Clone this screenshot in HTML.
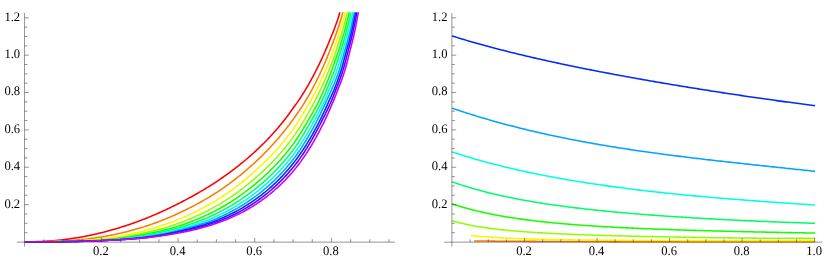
<!DOCTYPE html><html><head><meta charset="utf-8"><style>html,body{margin:0;padding:0;background:#fff}body{width:830px;height:273px;overflow:hidden;font-family:"Liberation Serif",serif}</style></head><body><svg width="830" height="273" viewBox="0 0 830 273" style="display:block">
<rect width="830" height="273" fill="#fff"/>
<defs><clipPath id="cl"><rect x="17" y="12.3" width="379" height="235"/></clipPath><clipPath id="cr"><rect x="444" y="12.3" width="379" height="235"/></clipPath></defs>
<g clip-path="url(#cl)" fill="none" stroke-width="1.55" stroke-linejoin="round">
<path d="M24.84 241.80 L25.74 241.80 L26.63 241.80 L27.52 241.79 L28.42 241.79 L29.31 241.78 L30.20 241.77 L31.10 241.76 L31.99 241.74 L32.88 241.73 L33.78 241.71 L34.67 241.69 L35.56 241.66 L36.46 241.64 L37.35 241.61 L38.24 241.58 L39.14 241.55 L40.03 241.51 L40.92 241.48 L41.82 241.44 L42.71 241.39 L43.60 241.35 L44.50 241.30 L45.39 241.25 L46.28 241.20 L47.18 241.14 L48.07 241.09 L48.96 241.02 L49.86 240.96 L50.75 240.90 L51.64 240.83 L52.54 240.76 L53.43 240.68 L54.32 240.61 L55.22 240.53 L56.11 240.45 L57.00 240.36 L57.90 240.28 L58.79 240.19 L59.68 240.09 L60.58 240.00 L61.47 239.90 L62.36 239.80 L63.26 239.70 L64.15 239.59 L65.04 239.48 L65.94 239.37 L66.83 239.26 L67.72 239.14 L68.62 239.02 L69.51 238.90 L70.40 238.77 L71.30 238.64 L72.19 238.51 L73.08 238.38 L73.98 238.24 L74.87 238.10 L75.77 237.96 L76.66 237.82 L77.55 237.67 L78.45 237.52 L79.34 237.37 L80.23 237.21 L81.13 237.05 L82.02 236.89 L82.91 236.73 L83.81 236.56 L84.70 236.39 L85.59 236.22 L86.49 236.04 L87.38 235.86 L88.27 235.68 L89.17 235.50 L90.06 235.31 L90.95 235.13 L91.85 234.93 L92.74 234.74 L93.63 234.54 L94.53 234.34 L95.42 234.14 L96.31 233.93 L97.21 233.73 L98.10 233.52 L98.99 233.30 L99.89 233.09 L100.78 232.87 L101.67 232.65 L102.57 232.42 L103.46 232.19 L104.35 231.96 L105.25 231.73 L106.14 231.50 L107.03 231.26 L107.93 231.02 L108.82 230.78 L109.71 230.53 L110.61 230.28 L111.50 230.03 L112.39 229.78 L113.29 229.52 L114.18 229.27 L115.07 229.00 L115.97 228.74 L116.86 228.47 L117.75 228.21 L118.65 227.93 L119.54 227.66 L120.43 227.38 L121.33 227.10 L122.22 226.82 L123.11 226.54 L124.01 226.25 L124.90 225.96 L125.80 225.67 L126.69 225.37 L127.58 225.07 L128.48 224.77 L129.37 224.47 L130.26 224.17 L131.16 223.86 L132.05 223.55 L132.94 223.23 L133.84 222.92 L134.73 222.60 L135.62 222.28 L136.52 221.95 L137.41 221.63 L138.30 221.30 L139.20 220.97 L140.09 220.63 L140.98 220.29 L141.88 219.95 L142.77 219.61 L143.66 219.26 L144.56 218.91 L145.45 218.56 L146.34 218.21 L147.24 217.85 L148.13 217.49 L149.02 217.12 L149.92 216.76 L150.81 216.39 L151.70 216.01 L152.60 215.64 L153.49 215.26 L154.38 214.88 L155.28 214.49 L156.17 214.11 L157.06 213.72 L157.96 213.32 L158.85 212.93 L159.74 212.53 L160.64 212.13 L161.53 211.73 L162.42 211.32 L163.32 210.91 L164.21 210.50 L165.10 210.08 L166.00 209.67 L166.89 209.25 L167.78 208.82 L168.68 208.40 L169.57 207.97 L170.46 207.54 L171.36 207.11 L172.25 206.67 L173.14 206.24 L174.04 205.79 L174.93 205.35 L175.82 204.91 L176.72 204.46 L177.61 204.01 L178.51 203.56 L179.40 203.10 L180.29 202.65 L181.19 202.19 L182.08 201.73 L182.97 201.26 L183.87 200.79 L184.76 200.33 L185.65 199.85 L186.55 199.38 L187.44 198.90 L188.33 198.42 L189.23 197.94 L190.12 197.46 L191.01 196.97 L191.91 196.48 L192.80 195.99 L193.69 195.49 L194.59 194.99 L195.48 194.49 L196.37 193.98 L197.27 193.48 L198.16 192.96 L199.05 192.45 L199.95 191.93 L200.84 191.41 L201.73 190.89 L202.63 190.36 L203.52 189.83 L204.41 189.29 L205.31 188.76 L206.20 188.21 L207.09 187.67 L207.99 187.12 L208.88 186.56 L209.77 186.01 L210.67 185.44 L211.56 184.88 L212.45 184.31 L213.35 183.73 L214.24 183.15 L215.13 182.57 L216.03 181.98 L216.92 181.39 L217.81 180.79 L218.71 180.19 L219.60 179.58 L220.49 178.97 L221.39 178.36 L222.28 177.74 L223.17 177.12 L224.07 176.49 L224.96 175.86 L225.85 175.23 L226.75 174.59 L227.64 173.94 L228.54 173.29 L229.43 172.64 L230.32 171.98 L231.22 171.32 L232.11 170.65 L233.00 169.98 L233.90 169.30 L234.79 168.62 L235.68 167.93 L236.58 167.23 L237.47 166.54 L238.36 165.83 L239.26 165.12 L240.15 164.41 L241.04 163.69 L241.94 162.96 L242.83 162.23 L243.72 161.49 L244.62 160.75 L245.51 160.00 L246.40 159.25 L247.30 158.49 L248.19 157.72 L249.08 156.95 L249.98 156.17 L250.87 155.38 L251.76 154.59 L252.66 153.79 L253.55 152.98 L254.44 152.17 L255.34 151.35 L256.23 150.52 L257.12 149.69 L258.02 148.85 L258.91 148.00 L259.80 147.14 L260.70 146.28 L261.59 145.40 L262.48 144.52 L263.38 143.64 L264.27 142.74 L265.16 141.83 L266.06 140.92 L266.95 140.00 L267.84 139.07 L268.74 138.13 L269.63 137.18 L270.52 136.22 L271.42 135.25 L272.31 134.27 L273.20 133.28 L274.10 132.29 L274.99 131.28 L275.88 130.26 L276.78 129.23 L277.67 128.19 L278.56 127.14 L279.46 126.08 L280.35 125.01 L281.25 123.92 L282.14 122.83 L283.03 121.72 L283.93 120.60 L284.82 119.47 L285.71 118.31 L286.61 117.13 L287.50 115.93 L288.39 114.71 L289.29 113.48 L290.18 112.24 L291.07 110.99 L291.97 109.73 L292.86 108.47 L293.75 107.23 L294.65 106.02 L295.54 104.83 L296.43 103.63 L297.33 102.41 L298.22 101.15 L299.11 99.83 L300.01 98.46 L300.90 97.08 L301.79 95.68 L302.69 94.26 L303.58 92.82 L304.47 91.36 L305.37 89.88 L306.26 88.38 L307.15 86.86 L308.05 85.32 L308.94 83.76 L309.83 82.18 L310.73 80.57 L311.62 78.94 L312.51 77.29 L313.41 75.62 L314.30 73.92 L315.19 72.20 L316.09 70.45 L316.98 68.68 L317.87 66.88 L318.77 65.06 L319.66 63.20 L320.55 61.32 L321.45 59.42 L322.34 57.48 L323.23 55.51 L324.13 53.52 L325.02 51.49 L325.91 49.43 L326.81 47.34 L327.70 45.22 L328.59 43.06 L329.49 40.87 L330.38 38.65 L331.28 36.38 L332.17 34.18 L333.06 32.10 L333.96 29.85 L334.85 27.43 L335.74 24.97 L336.64 22.47 L337.53 19.92 L338.42 17.17 L339.32 14.19 L340.21 11.21 L341.10 8.45 L342.00 5.64 L342.89 2.77 L343.78 -0.16 L344.68 -3.14 L345.57 -6.19 L346.46 -9.30 L347.36 -12.47 L348.25 -15.71 L349.14 -19.03" stroke="#ff0000"/>
<path d="M24.84 241.80 L25.74 241.80 L26.63 241.80 L27.52 241.80 L28.42 241.80 L29.31 241.80 L30.20 241.80 L31.10 241.79 L31.99 241.79 L32.88 241.79 L33.78 241.79 L34.67 241.78 L35.56 241.78 L36.46 241.77 L37.35 241.76 L38.24 241.76 L39.14 241.75 L40.03 241.74 L40.92 241.73 L41.82 241.71 L42.71 241.70 L43.60 241.69 L44.50 241.67 L45.39 241.66 L46.28 241.64 L47.18 241.62 L48.07 241.60 L48.96 241.58 L49.86 241.55 L50.75 241.53 L51.64 241.50 L52.54 241.48 L53.43 241.45 L54.32 241.42 L55.22 241.38 L56.11 241.35 L57.00 241.31 L57.90 241.28 L58.79 241.24 L59.68 241.20 L60.58 241.15 L61.47 241.11 L62.36 241.06 L63.26 241.02 L64.15 240.97 L65.04 240.91 L65.94 240.86 L66.83 240.80 L67.72 240.75 L68.62 240.69 L69.51 240.63 L70.40 240.56 L71.30 240.50 L72.19 240.43 L73.08 240.36 L73.98 240.29 L74.87 240.21 L75.77 240.14 L76.66 240.06 L77.55 239.98 L78.45 239.89 L79.34 239.81 L80.23 239.72 L81.13 239.63 L82.02 239.54 L82.91 239.44 L83.81 239.35 L84.70 239.25 L85.59 239.15 L86.49 239.04 L87.38 238.94 L88.27 238.83 L89.17 238.72 L90.06 238.60 L90.95 238.49 L91.85 238.37 L92.74 238.25 L93.63 238.13 L94.53 238.00 L95.42 237.87 L96.31 237.74 L97.21 237.61 L98.10 237.47 L98.99 237.33 L99.89 237.19 L100.78 237.05 L101.67 236.90 L102.57 236.75 L103.46 236.60 L104.35 236.45 L105.25 236.29 L106.14 236.13 L107.03 235.97 L107.93 235.81 L108.82 235.64 L109.71 235.47 L110.61 235.29 L111.50 235.12 L112.39 234.94 L113.29 234.76 L114.18 234.57 L115.07 234.39 L115.97 234.20 L116.86 234.01 L117.75 233.81 L118.65 233.61 L119.54 233.41 L120.43 233.21 L121.33 233.00 L122.22 232.79 L123.11 232.58 L124.01 232.36 L124.90 232.15 L125.80 231.93 L126.69 231.70 L127.58 231.47 L128.48 231.24 L129.37 231.01 L130.26 230.78 L131.16 230.54 L132.05 230.30 L132.94 230.05 L133.84 229.80 L134.73 229.55 L135.62 229.30 L136.52 229.04 L137.41 228.78 L138.30 228.52 L139.20 228.26 L140.09 227.99 L140.98 227.71 L141.88 227.44 L142.77 227.16 L143.66 226.88 L144.56 226.59 L145.45 226.31 L146.34 226.01 L147.24 225.72 L148.13 225.42 L149.02 225.12 L149.92 224.81 L150.81 224.51 L151.70 224.19 L152.60 223.88 L153.49 223.56 L154.38 223.24 L155.28 222.92 L156.17 222.59 L157.06 222.26 L157.96 221.92 L158.85 221.58 L159.74 221.24 L160.64 220.90 L161.53 220.55 L162.42 220.20 L163.32 219.84 L164.21 219.48 L165.10 219.12 L166.00 218.75 L166.89 218.39 L167.78 218.01 L168.68 217.64 L169.57 217.26 L170.46 216.88 L171.36 216.49 L172.25 216.10 L173.14 215.71 L174.04 215.32 L174.93 214.92 L175.82 214.52 L176.72 214.11 L177.61 213.70 L178.51 213.29 L179.40 212.88 L180.29 212.46 L181.19 212.04 L182.08 211.61 L182.97 211.19 L183.87 210.76 L184.76 210.33 L185.65 209.89 L186.55 209.45 L187.44 209.01 L188.33 208.56 L189.23 208.11 L190.12 207.66 L191.01 207.20 L191.91 206.75 L192.80 206.28 L193.69 205.82 L194.59 205.35 L195.48 204.87 L196.37 204.40 L197.27 203.92 L198.16 203.43 L199.05 202.95 L199.95 202.45 L200.84 201.96 L201.73 201.46 L202.63 200.96 L203.52 200.45 L204.41 199.94 L205.31 199.42 L206.20 198.90 L207.09 198.37 L207.99 197.85 L208.88 197.31 L209.77 196.77 L210.67 196.23 L211.56 195.68 L212.45 195.13 L213.35 194.57 L214.24 194.01 L215.13 193.44 L216.03 192.87 L216.92 192.29 L217.81 191.70 L218.71 191.11 L219.60 190.52 L220.49 189.92 L221.39 189.31 L222.28 188.70 L223.17 188.08 L224.07 187.46 L224.96 186.83 L225.85 186.20 L226.75 185.56 L227.64 184.91 L228.54 184.26 L229.43 183.60 L230.32 182.94 L231.22 182.27 L232.11 181.60 L233.00 180.92 L233.90 180.24 L234.79 179.55 L235.68 178.85 L236.58 178.15 L237.47 177.44 L238.36 176.73 L239.26 176.01 L240.15 175.29 L241.04 174.56 L241.94 173.82 L242.83 173.08 L243.72 172.33 L244.62 171.58 L245.51 170.82 L246.40 170.06 L247.30 169.28 L248.19 168.51 L249.08 167.73 L249.98 166.94 L250.87 166.15 L251.76 165.35 L252.66 164.54 L253.55 163.73 L254.44 162.92 L255.34 162.10 L256.23 161.27 L257.12 160.43 L258.02 159.59 L258.91 158.74 L259.80 157.88 L260.70 157.02 L261.59 156.14 L262.48 155.26 L263.38 154.38 L264.27 153.48 L265.16 152.58 L266.06 151.66 L266.95 150.74 L267.84 149.82 L268.74 148.88 L269.63 147.93 L270.52 146.98 L271.42 146.01 L272.31 145.04 L273.20 144.06 L274.10 143.07 L274.99 142.07 L275.88 141.06 L276.78 140.04 L277.67 139.01 L278.56 137.97 L279.46 136.92 L280.35 135.86 L281.25 134.79 L282.14 133.70 L283.03 132.61 L283.93 131.50 L284.82 130.39 L285.71 129.26 L286.61 128.12 L287.50 126.97 L288.39 125.80 L289.29 124.62 L290.18 123.43 L291.07 122.23 L291.97 121.01 L292.86 119.78 L293.75 118.54 L294.65 117.29 L295.54 116.03 L296.43 114.77 L297.33 113.49 L298.22 112.20 L299.11 110.89 L300.01 109.57 L300.90 108.23 L301.79 106.87 L302.69 105.49 L303.58 104.09 L304.47 102.67 L305.37 101.21 L306.26 99.73 L307.15 98.23 L308.05 96.69 L308.94 95.14 L309.83 93.56 L310.73 91.95 L311.62 90.32 L312.51 88.66 L313.41 86.97 L314.30 85.26 L315.19 83.52 L316.09 81.75 L316.98 79.96 L317.87 78.13 L318.77 76.28 L319.66 74.40 L320.55 72.48 L321.45 70.54 L322.34 68.56 L323.23 66.55 L324.13 64.51 L325.02 62.44 L325.91 60.33 L326.81 58.19 L327.70 56.01 L328.59 53.80 L329.49 51.55 L330.38 49.26 L331.28 46.93 L332.17 44.58 L333.06 42.22 L333.96 39.83 L334.85 37.41 L335.74 34.95 L336.64 32.43 L337.53 29.84 L338.42 27.19 L339.32 24.49 L340.21 21.71 L341.10 18.79 L342.00 15.64 L342.89 12.29 L343.78 9.15 L344.68 5.96 L345.57 2.69 L346.46 -0.66 L347.36 -4.09 L348.25 -7.60 L349.14 -11.21 L350.04 -14.92 L350.93 -18.72" stroke="#ff7a00"/>
<path d="M24.84 241.80 L25.74 241.80 L26.63 241.80 L27.52 241.80 L28.42 241.80 L29.31 241.80 L30.20 241.80 L31.10 241.80 L31.99 241.80 L32.88 241.80 L33.78 241.79 L34.67 241.79 L35.56 241.79 L36.46 241.79 L37.35 241.78 L38.24 241.78 L39.14 241.78 L40.03 241.77 L40.92 241.77 L41.82 241.76 L42.71 241.76 L43.60 241.75 L44.50 241.74 L45.39 241.73 L46.28 241.72 L47.18 241.72 L48.07 241.70 L48.96 241.69 L49.86 241.68 L50.75 241.67 L51.64 241.66 L52.54 241.64 L53.43 241.63 L54.32 241.61 L55.22 241.59 L56.11 241.58 L57.00 241.56 L57.90 241.54 L58.79 241.51 L59.68 241.49 L60.58 241.47 L61.47 241.44 L62.36 241.42 L63.26 241.39 L64.15 241.36 L65.04 241.33 L65.94 241.30 L66.83 241.27 L67.72 241.24 L68.62 241.21 L69.51 241.17 L70.40 241.13 L71.30 241.09 L72.19 241.06 L73.08 241.01 L73.98 240.97 L74.87 240.93 L75.77 240.88 L76.66 240.83 L77.55 240.79 L78.45 240.74 L79.34 240.68 L80.23 240.63 L81.13 240.57 L82.02 240.52 L82.91 240.46 L83.81 240.40 L84.70 240.34 L85.59 240.27 L86.49 240.21 L87.38 240.14 L88.27 240.07 L89.17 240.00 L90.06 239.92 L90.95 239.85 L91.85 239.77 L92.74 239.69 L93.63 239.61 L94.53 239.52 L95.42 239.44 L96.31 239.35 L97.21 239.26 L98.10 239.17 L98.99 239.07 L99.89 238.98 L100.78 238.88 L101.67 238.78 L102.57 238.67 L103.46 238.57 L104.35 238.46 L105.25 238.35 L106.14 238.23 L107.03 238.11 L107.93 237.99 L108.82 237.87 L109.71 237.74 L110.61 237.62 L111.50 237.48 L112.39 237.35 L113.29 237.21 L114.18 237.07 L115.07 236.93 L115.97 236.78 L116.86 236.63 L117.75 236.48 L118.65 236.32 L119.54 236.16 L120.43 236.00 L121.33 235.83 L122.22 235.66 L123.11 235.49 L124.01 235.32 L124.90 235.14 L125.80 234.96 L126.69 234.77 L127.58 234.59 L128.48 234.40 L129.37 234.20 L130.26 234.01 L131.16 233.81 L132.05 233.61 L132.94 233.40 L133.84 233.20 L134.73 232.99 L135.62 232.78 L136.52 232.56 L137.41 232.35 L138.30 232.13 L139.20 231.91 L140.09 231.68 L140.98 231.46 L141.88 231.23 L142.77 231.00 L143.66 230.77 L144.56 230.53 L145.45 230.29 L146.34 230.05 L147.24 229.81 L148.13 229.56 L149.02 229.31 L149.92 229.06 L150.81 228.81 L151.70 228.55 L152.60 228.29 L153.49 228.03 L154.38 227.77 L155.28 227.50 L156.17 227.23 L157.06 226.95 L157.96 226.68 L158.85 226.40 L159.74 226.12 L160.64 225.83 L161.53 225.54 L162.42 225.25 L163.32 224.96 L164.21 224.66 L165.10 224.36 L166.00 224.05 L166.89 223.75 L167.78 223.43 L168.68 223.12 L169.57 222.80 L170.46 222.48 L171.36 222.15 L172.25 221.82 L173.14 221.48 L174.04 221.14 L174.93 220.80 L175.82 220.45 L176.72 220.10 L177.61 219.74 L178.51 219.38 L179.40 219.01 L180.29 218.64 L181.19 218.27 L182.08 217.89 L182.97 217.51 L183.87 217.12 L184.76 216.74 L185.65 216.34 L186.55 215.95 L187.44 215.55 L188.33 215.14 L189.23 214.73 L190.12 214.32 L191.01 213.91 L191.91 213.49 L192.80 213.06 L193.69 212.63 L194.59 212.20 L195.48 211.76 L196.37 211.32 L197.27 210.88 L198.16 210.43 L199.05 209.98 L199.95 209.52 L200.84 209.06 L201.73 208.59 L202.63 208.12 L203.52 207.65 L204.41 207.17 L205.31 206.69 L206.20 206.20 L207.09 205.71 L207.99 205.21 L208.88 204.71 L209.77 204.21 L210.67 203.70 L211.56 203.18 L212.45 202.66 L213.35 202.14 L214.24 201.61 L215.13 201.07 L216.03 200.54 L216.92 199.99 L217.81 199.44 L218.71 198.89 L219.60 198.33 L220.49 197.76 L221.39 197.19 L222.28 196.61 L223.17 196.02 L224.07 195.43 L224.96 194.83 L225.85 194.23 L226.75 193.62 L227.64 193.00 L228.54 192.38 L229.43 191.75 L230.32 191.11 L231.22 190.47 L232.11 189.82 L233.00 189.17 L233.90 188.51 L234.79 187.84 L235.68 187.17 L236.58 186.49 L237.47 185.81 L238.36 185.12 L239.26 184.42 L240.15 183.72 L241.04 183.01 L241.94 182.29 L242.83 181.57 L243.72 180.84 L244.62 180.11 L245.51 179.37 L246.40 178.63 L247.30 177.87 L248.19 177.12 L249.08 176.35 L249.98 175.59 L250.87 174.81 L251.76 174.03 L252.66 173.25 L253.55 172.46 L254.44 171.66 L255.34 170.86 L256.23 170.05 L257.12 169.24 L258.02 168.42 L258.91 167.59 L259.80 166.76 L260.70 165.92 L261.59 165.07 L262.48 164.22 L263.38 163.36 L264.27 162.49 L265.16 161.62 L266.06 160.73 L266.95 159.84 L267.84 158.95 L268.74 158.04 L269.63 157.12 L270.52 156.20 L271.42 155.27 L272.31 154.33 L273.20 153.38 L274.10 152.42 L274.99 151.45 L275.88 150.47 L276.78 149.48 L277.67 148.48 L278.56 147.47 L279.46 146.44 L280.35 145.41 L281.25 144.36 L282.14 143.31 L283.03 142.24 L283.93 141.15 L284.82 140.06 L285.71 138.95 L286.61 137.82 L287.50 136.69 L288.39 135.53 L289.29 134.37 L290.18 133.19 L291.07 131.99 L291.97 130.77 L292.86 129.54 L293.75 128.28 L294.65 126.95 L295.54 125.58 L296.43 124.18 L297.33 122.77 L298.22 121.36 L299.11 119.98 L300.01 118.61 L300.90 117.22 L301.79 115.82 L302.69 114.39 L303.58 112.95 L304.47 111.49 L305.37 110.01 L306.26 108.51 L307.15 106.98 L308.05 105.44 L308.94 103.88 L309.83 102.29 L310.73 100.68 L311.62 99.05 L312.51 97.39 L313.41 95.72 L314.30 94.02 L315.19 92.30 L316.09 90.55 L316.98 88.78 L317.87 86.98 L318.77 85.16 L319.66 83.31 L320.55 81.43 L321.45 79.51 L322.34 77.57 L323.23 75.59 L324.13 73.58 L325.02 71.54 L325.91 69.45 L326.81 67.33 L327.70 65.17 L328.59 62.97 L329.49 60.72 L330.38 58.43 L331.28 56.09 L332.17 53.71 L333.06 51.27 L333.96 48.79 L334.85 46.26 L335.74 43.67 L336.64 41.03 L337.53 38.34 L338.42 35.59 L339.32 32.79 L340.21 29.93 L341.10 27.06 L342.00 24.18 L342.89 21.21 L343.78 18.05 L344.68 14.54 L345.57 10.98 L346.46 7.63 L347.36 4.20 L348.25 0.69 L349.14 -2.91 L350.04 -6.60 L350.93 -10.38 L351.82 -14.26 L352.72 -18.25" stroke="#fff500"/>
<path d="M24.84 241.80 L25.74 241.80 L26.63 241.80 L27.52 241.80 L28.42 241.80 L29.31 241.80 L30.20 241.80 L31.10 241.80 L31.99 241.80 L32.88 241.80 L33.78 241.79 L34.67 241.79 L35.56 241.79 L36.46 241.79 L37.35 241.79 L38.24 241.79 L39.14 241.78 L40.03 241.78 L40.92 241.78 L41.82 241.77 L42.71 241.77 L43.60 241.76 L44.50 241.76 L45.39 241.75 L46.28 241.75 L47.18 241.74 L48.07 241.73 L48.96 241.73 L49.86 241.72 L50.75 241.71 L51.64 241.70 L52.54 241.69 L53.43 241.68 L54.32 241.67 L55.22 241.66 L56.11 241.65 L57.00 241.63 L57.90 241.62 L58.79 241.61 L59.68 241.59 L60.58 241.57 L61.47 241.56 L62.36 241.54 L63.26 241.52 L64.15 241.50 L65.04 241.48 L65.94 241.46 L66.83 241.44 L67.72 241.42 L68.62 241.40 L69.51 241.38 L70.40 241.35 L71.30 241.32 L72.19 241.30 L73.08 241.27 L73.98 241.24 L74.87 241.21 L75.77 241.18 L76.66 241.15 L77.55 241.12 L78.45 241.08 L79.34 241.05 L80.23 241.01 L81.13 240.97 L82.02 240.93 L82.91 240.89 L83.81 240.85 L84.70 240.81 L85.59 240.76 L86.49 240.72 L87.38 240.67 L88.27 240.62 L89.17 240.57 L90.06 240.52 L90.95 240.46 L91.85 240.41 L92.74 240.35 L93.63 240.29 L94.53 240.23 L95.42 240.17 L96.31 240.11 L97.21 240.04 L98.10 239.97 L98.99 239.91 L99.89 239.83 L100.78 239.76 L101.67 239.69 L102.57 239.61 L103.46 239.53 L104.35 239.45 L105.25 239.36 L106.14 239.28 L107.03 239.19 L107.93 239.09 L108.82 239.00 L109.71 238.90 L110.61 238.80 L111.50 238.70 L112.39 238.59 L113.29 238.48 L114.18 238.37 L115.07 238.25 L115.97 238.13 L116.86 238.01 L117.75 237.88 L118.65 237.75 L119.54 237.62 L120.43 237.49 L121.33 237.35 L122.22 237.21 L123.11 237.06 L124.01 236.91 L124.90 236.76 L125.80 236.61 L126.69 236.45 L127.58 236.29 L128.48 236.13 L129.37 235.97 L130.26 235.80 L131.16 235.63 L132.05 235.45 L132.94 235.28 L133.84 235.10 L134.73 234.92 L135.62 234.74 L136.52 234.55 L137.41 234.36 L138.30 234.18 L139.20 233.99 L140.09 233.80 L140.98 233.61 L141.88 233.41 L142.77 233.22 L143.66 233.02 L144.56 232.82 L145.45 232.62 L146.34 232.42 L147.24 232.21 L148.13 232.01 L149.02 231.80 L149.92 231.59 L150.81 231.37 L151.70 231.16 L152.60 230.94 L153.49 230.73 L154.38 230.50 L155.28 230.28 L156.17 230.06 L157.06 229.83 L157.96 229.60 L158.85 229.37 L159.74 229.13 L160.64 228.89 L161.53 228.65 L162.42 228.41 L163.32 228.16 L164.21 227.91 L165.10 227.66 L166.00 227.41 L166.89 227.15 L167.78 226.88 L168.68 226.62 L169.57 226.34 L170.46 226.07 L171.36 225.79 L172.25 225.50 L173.14 225.21 L174.04 224.92 L174.93 224.62 L175.82 224.32 L176.72 224.00 L177.61 223.69 L178.51 223.36 L179.40 223.04 L180.29 222.71 L181.19 222.37 L182.08 222.03 L182.97 221.69 L183.87 221.35 L184.76 221.00 L185.65 220.64 L186.55 220.29 L187.44 219.92 L188.33 219.56 L189.23 219.19 L190.12 218.82 L191.01 218.44 L191.91 218.06 L192.80 217.67 L193.69 217.28 L194.59 216.89 L195.48 216.49 L196.37 216.09 L197.27 215.69 L198.16 215.28 L199.05 214.86 L199.95 214.44 L200.84 214.02 L201.73 213.59 L202.63 213.16 L203.52 212.73 L204.41 212.29 L205.31 211.84 L206.20 211.39 L207.09 210.94 L207.99 210.48 L208.88 210.02 L209.77 209.55 L210.67 209.08 L211.56 208.61 L212.45 208.13 L213.35 207.64 L214.24 207.15 L215.13 206.66 L216.03 206.16 L216.92 205.65 L217.81 205.14 L218.71 204.63 L219.60 204.10 L220.49 203.57 L221.39 203.04 L222.28 202.50 L223.17 201.95 L224.07 201.39 L224.96 200.83 L225.85 200.27 L226.75 199.69 L227.64 199.11 L228.54 198.53 L229.43 197.94 L230.32 197.34 L231.22 196.73 L232.11 196.12 L233.00 195.50 L233.90 194.88 L234.79 194.25 L235.68 193.61 L236.58 192.97 L237.47 192.32 L238.36 191.66 L239.26 191.00 L240.15 190.33 L241.04 189.66 L241.94 188.97 L242.83 188.29 L243.72 187.59 L244.62 186.89 L245.51 186.19 L246.40 185.48 L247.30 184.76 L248.19 184.03 L249.08 183.30 L249.98 182.57 L250.87 181.83 L251.76 181.08 L252.66 180.33 L253.55 179.57 L254.44 178.80 L255.34 178.04 L256.23 177.26 L257.12 176.48 L258.02 175.69 L258.91 174.89 L259.80 174.09 L260.70 173.28 L261.59 172.46 L262.48 171.64 L263.38 170.81 L264.27 169.97 L265.16 169.12 L266.06 168.26 L266.95 167.40 L267.84 166.53 L268.74 165.65 L269.63 164.76 L270.52 163.86 L271.42 162.95 L272.31 162.03 L273.20 161.11 L274.10 160.17 L274.99 159.22 L275.88 158.26 L276.78 157.29 L277.67 156.32 L278.56 155.32 L279.46 154.32 L280.35 153.31 L281.25 152.28 L282.14 151.24 L283.03 150.19 L283.93 149.12 L284.82 148.04 L285.71 146.95 L286.61 145.85 L287.50 144.72 L288.39 143.59 L289.29 142.43 L290.18 141.27 L291.07 140.08 L291.97 138.88 L292.86 137.66 L293.75 136.42 L294.65 135.14 L295.54 133.84 L296.43 132.50 L297.33 131.14 L298.22 129.75 L299.11 128.34 L300.01 126.92 L300.90 125.48 L301.79 124.02 L302.69 122.56 L303.58 121.10 L304.47 119.63 L305.37 118.15 L306.26 116.65 L307.15 115.13 L308.05 113.59 L308.94 112.03 L309.83 110.44 L310.73 108.83 L311.62 107.19 L312.51 105.53 L313.41 103.85 L314.30 102.14 L315.19 100.40 L316.09 98.64 L316.98 96.86 L317.87 95.06 L318.77 93.23 L319.66 91.38 L320.55 89.50 L321.45 87.59 L322.34 85.66 L323.23 83.69 L324.13 81.69 L325.02 79.65 L325.91 77.58 L326.81 75.47 L327.70 73.31 L328.59 71.11 L329.49 68.86 L330.38 66.57 L331.28 64.22 L332.17 61.82 L333.06 59.36 L333.96 56.84 L334.85 54.28 L335.74 51.67 L336.64 49.03 L337.53 46.35 L338.42 43.63 L339.32 40.86 L340.21 38.03 L341.10 35.14 L342.00 32.17 L342.89 29.13 L343.78 25.99 L344.68 22.75 L345.57 19.41 L346.46 15.75 L347.36 11.84 L348.25 8.34 L349.14 4.76 L350.04 1.09 L350.93 -2.67 L351.82 -6.52 L352.72 -10.47 L353.61 -14.51 L354.50 -18.66" stroke="#8fff00"/>
<path d="M24.84 241.80 L25.74 241.80 L26.63 241.80 L27.52 241.80 L28.42 241.80 L29.31 241.80 L30.20 241.80 L31.10 241.80 L31.99 241.80 L32.88 241.79 L33.78 241.79 L34.67 241.79 L35.56 241.79 L36.46 241.79 L37.35 241.79 L38.24 241.78 L39.14 241.78 L40.03 241.78 L40.92 241.77 L41.82 241.77 L42.71 241.77 L43.60 241.76 L44.50 241.76 L45.39 241.75 L46.28 241.75 L47.18 241.74 L48.07 241.74 L48.96 241.73 L49.86 241.73 L50.75 241.72 L51.64 241.71 L52.54 241.70 L53.43 241.70 L54.32 241.69 L55.22 241.68 L56.11 241.67 L57.00 241.66 L57.90 241.65 L58.79 241.64 L59.68 241.62 L60.58 241.61 L61.47 241.60 L62.36 241.59 L63.26 241.57 L64.15 241.56 L65.04 241.54 L65.94 241.53 L66.83 241.51 L67.72 241.49 L68.62 241.48 L69.51 241.46 L70.40 241.44 L71.30 241.42 L72.19 241.40 L73.08 241.38 L73.98 241.36 L74.87 241.34 L75.77 241.31 L76.66 241.29 L77.55 241.26 L78.45 241.24 L79.34 241.21 L80.23 241.18 L81.13 241.15 L82.02 241.12 L82.91 241.09 L83.81 241.06 L84.70 241.03 L85.59 240.99 L86.49 240.96 L87.38 240.92 L88.27 240.88 L89.17 240.84 L90.06 240.80 L90.95 240.76 L91.85 240.72 L92.74 240.68 L93.63 240.63 L94.53 240.59 L95.42 240.54 L96.31 240.49 L97.21 240.44 L98.10 240.38 L98.99 240.33 L99.89 240.28 L100.78 240.22 L101.67 240.16 L102.57 240.10 L103.46 240.04 L104.35 239.97 L105.25 239.90 L106.14 239.83 L107.03 239.76 L107.93 239.69 L108.82 239.61 L109.71 239.53 L110.61 239.45 L111.50 239.36 L112.39 239.27 L113.29 239.18 L114.18 239.09 L115.07 238.99 L115.97 238.89 L116.86 238.79 L117.75 238.68 L118.65 238.58 L119.54 238.47 L120.43 238.35 L121.33 238.23 L122.22 238.11 L123.11 237.99 L124.01 237.86 L124.90 237.73 L125.80 237.60 L126.69 237.47 L127.58 237.33 L128.48 237.19 L129.37 237.04 L130.26 236.90 L131.16 236.75 L132.05 236.60 L132.94 236.45 L133.84 236.29 L134.73 236.14 L135.62 235.98 L136.52 235.82 L137.41 235.66 L138.30 235.49 L139.20 235.33 L140.09 235.16 L140.98 235.00 L141.88 234.83 L142.77 234.66 L143.66 234.49 L144.56 234.32 L145.45 234.15 L146.34 233.97 L147.24 233.80 L148.13 233.62 L149.02 233.44 L149.92 233.26 L150.81 233.07 L151.70 232.89 L152.60 232.70 L153.49 232.51 L154.38 232.32 L155.28 232.13 L156.17 231.94 L157.06 231.74 L157.96 231.54 L158.85 231.34 L159.74 231.14 L160.64 230.94 L161.53 230.73 L162.42 230.52 L163.32 230.30 L164.21 230.09 L165.10 229.87 L166.00 229.65 L166.89 229.42 L167.78 229.19 L168.68 228.96 L169.57 228.72 L170.46 228.48 L171.36 228.24 L172.25 227.99 L173.14 227.73 L174.04 227.47 L174.93 227.21 L175.82 226.94 L176.72 226.66 L177.61 226.38 L178.51 226.09 L179.40 225.80 L180.29 225.50 L181.19 225.20 L182.08 224.90 L182.97 224.59 L183.87 224.28 L184.76 223.97 L185.65 223.65 L186.55 223.33 L187.44 223.00 L188.33 222.67 L189.23 222.34 L190.12 222.00 L191.01 221.66 L191.91 221.32 L192.80 220.97 L193.69 220.62 L194.59 220.26 L195.48 219.90 L196.37 219.53 L197.27 219.17 L198.16 218.79 L199.05 218.42 L199.95 218.03 L200.84 217.65 L201.73 217.26 L202.63 216.87 L203.52 216.47 L204.41 216.07 L205.31 215.66 L206.20 215.25 L207.09 214.83 L207.99 214.41 L208.88 213.99 L209.77 213.56 L210.67 213.13 L211.56 212.69 L212.45 212.25 L213.35 211.80 L214.24 211.35 L215.13 210.89 L216.03 210.43 L216.92 209.96 L217.81 209.49 L218.71 209.01 L219.60 208.53 L220.49 208.04 L221.39 207.54 L222.28 207.04 L223.17 206.53 L224.07 206.01 L224.96 205.49 L225.85 204.96 L226.75 204.42 L227.64 203.88 L228.54 203.33 L229.43 202.78 L230.32 202.22 L231.22 201.65 L232.11 201.08 L233.00 200.50 L233.90 199.91 L234.79 199.32 L235.68 198.72 L236.58 198.11 L237.47 197.50 L238.36 196.88 L239.26 196.26 L240.15 195.62 L241.04 194.99 L241.94 194.34 L242.83 193.69 L243.72 193.03 L244.62 192.37 L245.51 191.70 L246.40 191.03 L247.30 190.34 L248.19 189.66 L249.08 188.96 L249.98 188.26 L250.87 187.56 L251.76 186.85 L252.66 186.13 L253.55 185.41 L254.44 184.68 L255.34 183.94 L256.23 183.20 L257.12 182.46 L258.02 181.70 L258.91 180.94 L259.80 180.17 L260.70 179.39 L261.59 178.60 L262.48 177.80 L263.38 177.00 L264.27 176.19 L265.16 175.37 L266.06 174.54 L266.95 173.70 L267.84 172.85 L268.74 172.00 L269.63 171.13 L270.52 170.25 L271.42 169.37 L272.31 168.47 L273.20 167.57 L274.10 166.65 L274.99 165.72 L275.88 164.78 L276.78 163.84 L277.67 162.87 L278.56 161.90 L279.46 160.92 L280.35 159.92 L281.25 158.91 L282.14 157.89 L283.03 156.85 L283.93 155.80 L284.82 154.74 L285.71 153.67 L286.61 152.57 L287.50 151.47 L288.39 150.35 L289.29 149.21 L290.18 148.06 L291.07 146.89 L291.97 145.71 L292.86 144.51 L293.75 143.29 L294.65 142.04 L295.54 140.77 L296.43 139.47 L297.33 138.14 L298.22 136.79 L299.11 135.42 L300.01 134.02 L300.90 132.60 L301.79 131.16 L302.69 129.71 L303.58 128.23 L304.47 126.74 L305.37 125.23 L306.26 123.70 L307.15 122.16 L308.05 120.62 L308.94 119.06 L309.83 117.51 L310.73 115.96 L311.62 114.40 L312.51 112.84 L313.41 111.26 L314.30 109.66 L315.19 108.03 L316.09 106.37 L316.98 104.67 L317.87 102.91 L318.77 101.11 L319.66 99.24 L320.55 97.33 L321.45 95.39 L322.34 93.42 L323.23 91.41 L324.13 89.36 L325.02 87.28 L325.91 85.16 L326.81 83.00 L327.70 80.80 L328.59 78.56 L329.49 76.28 L330.38 73.95 L331.28 71.58 L332.17 69.13 L333.06 66.56 L333.96 63.92 L334.85 61.27 L335.74 58.69 L336.64 56.20 L337.53 53.72 L338.42 51.14 L339.32 48.41 L340.21 45.61 L341.10 42.74 L342.00 39.81 L342.89 36.80 L343.78 33.73 L344.68 30.58 L345.57 27.32 L346.46 23.92 L347.36 20.39 L348.25 16.56 L349.14 12.32 L350.04 8.64 L350.93 4.94 L351.82 1.15 L352.72 -2.74 L353.61 -6.71 L354.50 -10.78 L355.40 -14.94 L356.29 -19.21" stroke="#14ff00"/>
<path d="M24.84 241.80 L25.74 241.80 L26.63 241.80 L27.52 241.80 L28.42 241.80 L29.31 241.80 L30.20 241.80 L31.10 241.80 L31.99 241.79 L32.88 241.79 L33.78 241.79 L34.67 241.79 L35.56 241.79 L36.46 241.78 L37.35 241.78 L38.24 241.78 L39.14 241.78 L40.03 241.77 L40.92 241.77 L41.82 241.77 L42.71 241.76 L43.60 241.76 L44.50 241.76 L45.39 241.75 L46.28 241.75 L47.18 241.74 L48.07 241.74 L48.96 241.73 L49.86 241.72 L50.75 241.72 L51.64 241.71 L52.54 241.70 L53.43 241.70 L54.32 241.69 L55.22 241.68 L56.11 241.67 L57.00 241.66 L57.90 241.65 L58.79 241.64 L59.68 241.63 L60.58 241.62 L61.47 241.61 L62.36 241.60 L63.26 241.59 L64.15 241.57 L65.04 241.56 L65.94 241.55 L66.83 241.54 L67.72 241.52 L68.62 241.51 L69.51 241.49 L70.40 241.48 L71.30 241.46 L72.19 241.44 L73.08 241.42 L73.98 241.41 L74.87 241.39 L75.77 241.37 L76.66 241.35 L77.55 241.33 L78.45 241.31 L79.34 241.28 L80.23 241.26 L81.13 241.24 L82.02 241.21 L82.91 241.19 L83.81 241.16 L84.70 241.13 L85.59 241.10 L86.49 241.07 L87.38 241.04 L88.27 241.01 L89.17 240.98 L90.06 240.95 L90.95 240.91 L91.85 240.88 L92.74 240.84 L93.63 240.80 L94.53 240.77 L95.42 240.73 L96.31 240.68 L97.21 240.64 L98.10 240.60 L98.99 240.55 L99.89 240.51 L100.78 240.46 L101.67 240.41 L102.57 240.36 L103.46 240.31 L104.35 240.26 L105.25 240.20 L106.14 240.14 L107.03 240.08 L107.93 240.02 L108.82 239.95 L109.71 239.89 L110.61 239.82 L111.50 239.74 L112.39 239.67 L113.29 239.59 L114.18 239.51 L115.07 239.43 L115.97 239.35 L116.86 239.26 L117.75 239.17 L118.65 239.08 L119.54 238.98 L120.43 238.89 L121.33 238.79 L122.22 238.68 L123.11 238.58 L124.01 238.47 L124.90 238.36 L125.80 238.25 L126.69 238.13 L127.58 238.01 L128.48 237.89 L129.37 237.77 L130.26 237.64 L131.16 237.52 L132.05 237.39 L132.94 237.26 L133.84 237.12 L134.73 236.99 L135.62 236.85 L136.52 236.71 L137.41 236.57 L138.30 236.43 L139.20 236.29 L140.09 236.15 L140.98 236.01 L141.88 235.86 L142.77 235.71 L143.66 235.57 L144.56 235.42 L145.45 235.26 L146.34 235.11 L147.24 234.95 L148.13 234.80 L149.02 234.64 L149.92 234.48 L150.81 234.32 L151.70 234.15 L152.60 233.98 L153.49 233.82 L154.38 233.65 L155.28 233.47 L156.17 233.30 L157.06 233.12 L157.96 232.95 L158.85 232.77 L159.74 232.58 L160.64 232.40 L161.53 232.21 L162.42 232.02 L163.32 231.83 L164.21 231.63 L165.10 231.43 L166.00 231.23 L166.89 231.03 L167.78 230.82 L168.68 230.61 L169.57 230.39 L170.46 230.18 L171.36 229.96 L172.25 229.73 L173.14 229.50 L174.04 229.27 L174.93 229.03 L175.82 228.79 L176.72 228.54 L177.61 228.29 L178.51 228.03 L179.40 227.77 L180.29 227.51 L181.19 227.24 L182.08 226.97 L182.97 226.70 L183.87 226.42 L184.76 226.14 L185.65 225.86 L186.55 225.57 L187.44 225.28 L188.33 224.98 L189.23 224.68 L190.12 224.38 L191.01 224.07 L191.91 223.76 L192.80 223.45 L193.69 223.13 L194.59 222.81 L195.48 222.48 L196.37 222.15 L197.27 221.82 L198.16 221.48 L199.05 221.14 L199.95 220.79 L200.84 220.44 L201.73 220.08 L202.63 219.72 L203.52 219.36 L204.41 218.99 L205.31 218.62 L206.20 218.24 L207.09 217.86 L207.99 217.48 L208.88 217.09 L209.77 216.69 L210.67 216.29 L211.56 215.89 L212.45 215.48 L213.35 215.06 L214.24 214.64 L215.13 214.22 L216.03 213.79 L216.92 213.35 L217.81 212.91 L218.71 212.46 L219.60 212.01 L220.49 211.55 L221.39 211.09 L222.28 210.62 L223.17 210.14 L224.07 209.66 L224.96 209.17 L225.85 208.68 L226.75 208.18 L227.64 207.67 L228.54 207.16 L229.43 206.64 L230.32 206.12 L231.22 205.59 L232.11 205.05 L233.00 204.51 L233.90 203.96 L234.79 203.40 L235.68 202.84 L236.58 202.27 L237.47 201.70 L238.36 201.12 L239.26 200.53 L240.15 199.93 L241.04 199.33 L241.94 198.73 L242.83 198.11 L243.72 197.49 L244.62 196.87 L245.51 196.23 L246.40 195.59 L247.30 194.95 L248.19 194.30 L249.08 193.64 L249.98 192.97 L250.87 192.30 L251.76 191.62 L252.66 190.94 L253.55 190.25 L254.44 189.55 L255.34 188.84 L256.23 188.13 L257.12 187.41 L258.02 186.68 L258.91 185.95 L259.80 185.20 L260.70 184.45 L261.59 183.69 L262.48 182.92 L263.38 182.14 L264.27 181.35 L265.16 180.56 L266.06 179.75 L266.95 178.93 L267.84 178.11 L268.74 177.27 L269.63 176.43 L270.52 175.57 L271.42 174.71 L272.31 173.83 L273.20 172.95 L274.10 172.05 L274.99 171.14 L275.88 170.22 L276.78 169.29 L277.67 168.35 L278.56 167.39 L279.46 166.43 L280.35 165.45 L281.25 164.46 L282.14 163.46 L283.03 162.44 L283.93 161.41 L284.82 160.37 L285.71 159.31 L286.61 158.24 L287.50 157.15 L288.39 156.06 L289.29 154.94 L290.18 153.81 L291.07 152.67 L291.97 151.51 L292.86 150.33 L293.75 149.13 L294.65 147.91 L295.54 146.66 L296.43 145.38 L297.33 144.07 L298.22 142.74 L299.11 141.38 L300.01 140.00 L300.90 138.59 L301.79 137.16 L302.69 135.71 L303.58 134.23 L304.47 132.73 L305.37 131.22 L306.26 129.68 L307.15 128.13 L308.05 126.56 L308.94 124.98 L309.83 123.38 L310.73 121.77 L311.62 120.14 L312.51 118.53 L313.41 116.92 L314.30 115.33 L315.19 113.73 L316.09 112.13 L316.98 110.51 L317.87 108.86 L318.77 107.18 L319.66 105.46 L320.55 103.68 L321.45 101.83 L322.34 99.91 L323.23 97.93 L324.13 95.91 L325.02 93.85 L325.91 91.75 L326.81 89.61 L327.70 87.44 L328.59 85.22 L329.49 82.97 L330.38 80.67 L331.28 78.34 L332.17 76.07 L333.06 73.95 L333.96 71.80 L334.85 69.38 L335.74 66.62 L336.64 63.69 L337.53 60.80 L338.42 58.07 L339.32 55.32 L340.21 52.53 L341.10 49.68 L342.00 46.78 L342.89 43.82 L343.78 40.79 L344.68 37.70 L345.57 34.53 L346.46 31.26 L347.36 27.87 L348.25 24.30 L349.14 20.57 L350.04 16.47 L350.93 11.90 L351.82 8.09 L352.72 4.19 L353.61 0.19 L354.50 -3.91 L355.40 -8.11 L356.29 -12.42 L357.18 -16.84" stroke="#00ff66"/>
<path d="M24.84 241.80 L25.74 241.80 L26.63 241.80 L27.52 241.80 L28.42 241.80 L29.31 241.80 L30.20 241.79 L31.10 241.79 L31.99 241.79 L32.88 241.79 L33.78 241.79 L34.67 241.79 L35.56 241.78 L36.46 241.78 L37.35 241.78 L38.24 241.78 L39.14 241.77 L40.03 241.77 L40.92 241.77 L41.82 241.76 L42.71 241.76 L43.60 241.75 L44.50 241.75 L45.39 241.75 L46.28 241.74 L47.18 241.74 L48.07 241.73 L48.96 241.72 L49.86 241.72 L50.75 241.71 L51.64 241.71 L52.54 241.70 L53.43 241.69 L54.32 241.68 L55.22 241.68 L56.11 241.67 L57.00 241.66 L57.90 241.65 L58.79 241.64 L59.68 241.63 L60.58 241.62 L61.47 241.61 L62.36 241.60 L63.26 241.59 L64.15 241.58 L65.04 241.57 L65.94 241.56 L66.83 241.54 L67.72 241.53 L68.62 241.52 L69.51 241.50 L70.40 241.49 L71.30 241.47 L72.19 241.46 L73.08 241.44 L73.98 241.43 L74.87 241.41 L75.77 241.39 L76.66 241.37 L77.55 241.35 L78.45 241.33 L79.34 241.31 L80.23 241.29 L81.13 241.27 L82.02 241.25 L82.91 241.23 L83.81 241.20 L84.70 241.18 L85.59 241.15 L86.49 241.13 L87.38 241.10 L88.27 241.07 L89.17 241.05 L90.06 241.02 L90.95 240.99 L91.85 240.95 L92.74 240.92 L93.63 240.89 L94.53 240.86 L95.42 240.82 L96.31 240.78 L97.21 240.75 L98.10 240.71 L98.99 240.67 L99.89 240.63 L100.78 240.59 L101.67 240.55 L102.57 240.50 L103.46 240.46 L104.35 240.41 L105.25 240.36 L106.14 240.31 L107.03 240.26 L107.93 240.20 L108.82 240.15 L109.71 240.09 L110.61 240.03 L111.50 239.97 L112.39 239.90 L113.29 239.84 L114.18 239.77 L115.07 239.70 L115.97 239.63 L116.86 239.55 L117.75 239.48 L118.65 239.40 L119.54 239.32 L120.43 239.24 L121.33 239.15 L122.22 239.07 L123.11 238.98 L124.01 238.88 L124.90 238.79 L125.80 238.70 L126.69 238.60 L127.58 238.50 L128.48 238.40 L129.37 238.29 L130.26 238.19 L131.16 238.08 L132.05 237.97 L132.94 237.86 L133.84 237.74 L134.73 237.63 L135.62 237.51 L136.52 237.40 L137.41 237.28 L138.30 237.16 L139.20 237.03 L140.09 236.91 L140.98 236.79 L141.88 236.66 L142.77 236.53 L143.66 236.40 L144.56 236.27 L145.45 236.14 L146.34 236.00 L147.24 235.86 L148.13 235.72 L149.02 235.58 L149.92 235.43 L150.81 235.29 L151.70 235.14 L152.60 234.99 L153.49 234.83 L154.38 234.68 L155.28 234.52 L156.17 234.36 L157.06 234.19 L157.96 234.03 L158.85 233.86 L159.74 233.69 L160.64 233.52 L161.53 233.34 L162.42 233.17 L163.32 232.98 L164.21 232.80 L165.10 232.62 L166.00 232.43 L166.89 232.24 L167.78 232.04 L168.68 231.85 L169.57 231.65 L170.46 231.44 L171.36 231.24 L172.25 231.03 L173.14 230.82 L174.04 230.60 L174.93 230.38 L175.82 230.16 L176.72 229.94 L177.61 229.71 L178.51 229.48 L179.40 229.24 L180.29 229.00 L181.19 228.76 L182.08 228.52 L182.97 228.27 L183.87 228.02 L184.76 227.77 L185.65 227.51 L186.55 227.25 L187.44 226.99 L188.33 226.72 L189.23 226.45 L190.12 226.18 L191.01 225.90 L191.91 225.62 L192.80 225.33 L193.69 225.05 L194.59 224.76 L195.48 224.46 L196.37 224.16 L197.27 223.86 L198.16 223.55 L199.05 223.24 L199.95 222.93 L200.84 222.61 L201.73 222.29 L202.63 221.96 L203.52 221.63 L204.41 221.30 L205.31 220.96 L206.20 220.61 L207.09 220.26 L207.99 219.91 L208.88 219.55 L209.77 219.19 L210.67 218.82 L211.56 218.45 L212.45 218.07 L213.35 217.68 L214.24 217.29 L215.13 216.90 L216.03 216.50 L216.92 216.09 L217.81 215.68 L218.71 215.26 L219.60 214.84 L220.49 214.41 L221.39 213.98 L222.28 213.54 L223.17 213.09 L224.07 212.64 L224.96 212.19 L225.85 211.72 L226.75 211.26 L227.64 210.78 L228.54 210.30 L229.43 209.82 L230.32 209.33 L231.22 208.83 L232.11 208.33 L233.00 207.82 L233.90 207.30 L234.79 206.78 L235.68 206.26 L236.58 205.72 L237.47 205.18 L238.36 204.63 L239.26 204.08 L240.15 203.52 L241.04 202.95 L241.94 202.38 L242.83 201.80 L243.72 201.21 L244.62 200.62 L245.51 200.02 L246.40 199.41 L247.30 198.80 L248.19 198.18 L249.08 197.55 L249.98 196.91 L250.87 196.27 L251.76 195.62 L252.66 194.96 L253.55 194.30 L254.44 193.63 L255.34 192.95 L256.23 192.26 L257.12 191.57 L258.02 190.86 L258.91 190.15 L259.80 189.43 L260.70 188.70 L261.59 187.96 L262.48 187.22 L263.38 186.46 L264.27 185.70 L265.16 184.93 L266.06 184.14 L266.95 183.35 L267.84 182.55 L268.74 181.74 L269.63 180.92 L270.52 180.09 L271.42 179.24 L272.31 178.39 L273.20 177.53 L274.10 176.65 L274.99 175.77 L275.88 174.87 L276.78 173.96 L277.67 173.04 L278.56 172.11 L279.46 171.17 L280.35 170.21 L281.25 169.24 L282.14 168.26 L283.03 167.26 L283.93 166.25 L284.82 165.23 L285.71 164.19 L286.61 163.14 L287.50 162.07 L288.39 160.99 L289.29 159.90 L290.18 158.78 L291.07 157.65 L291.97 156.51 L292.86 155.35 L293.75 154.17 L294.65 152.97 L295.54 151.74 L296.43 150.49 L297.33 149.22 L298.22 147.93 L299.11 146.61 L300.01 145.27 L300.90 143.91 L301.79 142.53 L302.69 141.13 L303.58 139.70 L304.47 138.25 L305.37 136.78 L306.26 135.29 L307.15 133.77 L308.05 132.24 L308.94 130.68 L309.83 129.11 L310.73 127.51 L311.62 125.90 L312.51 124.26 L313.41 122.61 L314.30 120.94 L315.19 119.25 L316.09 117.56 L316.98 115.86 L317.87 114.15 L318.77 112.42 L319.66 110.67 L320.55 108.90 L321.45 107.09 L322.34 105.26 L323.23 103.39 L324.13 101.47 L325.02 99.51 L325.91 97.50 L326.81 95.44 L327.70 93.34 L328.59 91.21 L329.49 89.04 L330.38 86.84 L331.28 84.61 L332.17 82.40 L333.06 80.26 L333.96 78.14 L334.85 75.99 L335.74 73.74 L336.64 71.34 L337.53 68.71 L338.42 65.68 L339.32 62.50 L340.21 59.43 L341.10 56.41 L342.00 53.38 L342.89 50.34 L343.78 47.32 L344.68 44.30 L345.57 41.25 L346.46 38.14 L347.36 34.94 L348.25 31.62 L349.14 28.13 L350.04 24.43 L350.93 20.58 L351.82 16.80 L352.72 12.96 L353.61 9.03 L354.50 4.99 L355.40 0.86 L356.29 -3.39 L357.18 -7.74 L358.08 -12.22 L358.97 -16.81" stroke="#00ffe0"/>
<path d="M24.84 241.80 L25.74 241.80 L26.63 241.80 L27.52 241.80 L28.42 241.80 L29.31 241.80 L30.20 241.80 L31.10 241.79 L31.99 241.79 L32.88 241.79 L33.78 241.79 L34.67 241.79 L35.56 241.78 L36.46 241.78 L37.35 241.78 L38.24 241.78 L39.14 241.77 L40.03 241.77 L40.92 241.77 L41.82 241.76 L42.71 241.76 L43.60 241.76 L44.50 241.75 L45.39 241.75 L46.28 241.74 L47.18 241.74 L48.07 241.73 L48.96 241.73 L49.86 241.72 L50.75 241.72 L51.64 241.71 L52.54 241.70 L53.43 241.70 L54.32 241.69 L55.22 241.68 L56.11 241.67 L57.00 241.66 L57.90 241.66 L58.79 241.65 L59.68 241.64 L60.58 241.63 L61.47 241.62 L62.36 241.61 L63.26 241.60 L64.15 241.59 L65.04 241.57 L65.94 241.56 L66.83 241.55 L67.72 241.54 L68.62 241.52 L69.51 241.51 L70.40 241.50 L71.30 241.48 L72.19 241.47 L73.08 241.45 L73.98 241.44 L74.87 241.42 L75.77 241.40 L76.66 241.39 L77.55 241.37 L78.45 241.35 L79.34 241.33 L80.23 241.31 L81.13 241.29 L82.02 241.27 L82.91 241.25 L83.81 241.22 L84.70 241.20 L85.59 241.18 L86.49 241.15 L87.38 241.13 L88.27 241.10 L89.17 241.07 L90.06 241.05 L90.95 241.02 L91.85 240.99 L92.74 240.96 L93.63 240.93 L94.53 240.90 L95.42 240.86 L96.31 240.83 L97.21 240.80 L98.10 240.76 L98.99 240.72 L99.89 240.69 L100.78 240.65 L101.67 240.61 L102.57 240.57 L103.46 240.53 L104.35 240.48 L105.25 240.44 L106.14 240.39 L107.03 240.35 L107.93 240.30 L108.82 240.25 L109.71 240.20 L110.61 240.15 L111.50 240.09 L112.39 240.04 L113.29 239.98 L114.18 239.92 L115.07 239.87 L115.97 239.80 L116.86 239.74 L117.75 239.68 L118.65 239.61 L119.54 239.54 L120.43 239.48 L121.33 239.40 L122.22 239.33 L123.11 239.26 L124.01 239.18 L124.90 239.10 L125.80 239.03 L126.69 238.94 L127.58 238.86 L128.48 238.78 L129.37 238.69 L130.26 238.60 L131.16 238.51 L132.05 238.42 L132.94 238.33 L133.84 238.23 L134.73 238.13 L135.62 238.04 L136.52 237.94 L137.41 237.83 L138.30 237.73 L139.20 237.62 L140.09 237.52 L140.98 237.41 L141.88 237.29 L142.77 237.18 L143.66 237.07 L144.56 236.95 L145.45 236.83 L146.34 236.70 L147.24 236.58 L148.13 236.45 L149.02 236.32 L149.92 236.19 L150.81 236.06 L151.70 235.92 L152.60 235.78 L153.49 235.64 L154.38 235.50 L155.28 235.35 L156.17 235.20 L157.06 235.05 L157.96 234.90 L158.85 234.74 L159.74 234.58 L160.64 234.42 L161.53 234.25 L162.42 234.09 L163.32 233.92 L164.21 233.74 L165.10 233.57 L166.00 233.39 L166.89 233.21 L167.78 233.03 L168.68 232.84 L169.57 232.65 L170.46 232.46 L171.36 232.26 L172.25 232.06 L173.14 231.86 L174.04 231.66 L174.93 231.45 L175.82 231.24 L176.72 231.03 L177.61 230.81 L178.51 230.59 L179.40 230.37 L180.29 230.15 L181.19 229.92 L182.08 229.70 L182.97 229.47 L183.87 229.23 L184.76 229.00 L185.65 228.76 L186.55 228.52 L187.44 228.28 L188.33 228.04 L189.23 227.79 L190.12 227.54 L191.01 227.29 L191.91 227.04 L192.80 226.78 L193.69 226.52 L194.59 226.26 L195.48 225.99 L196.37 225.72 L197.27 225.45 L198.16 225.17 L199.05 224.89 L199.95 224.61 L200.84 224.32 L201.73 224.03 L202.63 223.74 L203.52 223.44 L204.41 223.14 L205.31 222.83 L206.20 222.52 L207.09 222.20 L207.99 221.88 L208.88 221.56 L209.77 221.22 L210.67 220.89 L211.56 220.54 L212.45 220.19 L213.35 219.84 L214.24 219.48 L215.13 219.11 L216.03 218.73 L216.92 218.35 L217.81 217.96 L218.71 217.57 L219.60 217.18 L220.49 216.77 L221.39 216.37 L222.28 215.95 L223.17 215.54 L224.07 215.11 L224.96 214.68 L225.85 214.25 L226.75 213.81 L227.64 213.36 L228.54 212.91 L229.43 212.46 L230.32 212.00 L231.22 211.53 L232.11 211.05 L233.00 210.57 L233.90 210.09 L234.79 209.60 L235.68 209.10 L236.58 208.60 L237.47 208.09 L238.36 207.57 L239.26 207.05 L240.15 206.52 L241.04 205.98 L241.94 205.44 L242.83 204.89 L243.72 204.33 L244.62 203.77 L245.51 203.20 L246.40 202.62 L247.30 202.04 L248.19 201.44 L249.08 200.85 L249.98 200.24 L250.87 199.63 L251.76 199.00 L252.66 198.38 L253.55 197.74 L254.44 197.09 L255.34 196.44 L256.23 195.78 L257.12 195.11 L258.02 194.43 L258.91 193.75 L259.80 193.05 L260.70 192.35 L261.59 191.63 L262.48 190.91 L263.38 190.18 L264.27 189.44 L265.16 188.69 L266.06 187.93 L266.95 187.16 L267.84 186.38 L268.74 185.59 L269.63 184.79 L270.52 183.98 L271.42 183.16 L272.31 182.33 L273.20 181.49 L274.10 180.64 L274.99 179.77 L275.88 178.90 L276.78 178.01 L277.67 177.11 L278.56 176.20 L279.46 175.27 L280.35 174.34 L281.25 173.39 L282.14 172.42 L283.03 171.45 L283.93 170.46 L284.82 169.46 L285.71 168.44 L286.61 167.41 L287.50 166.37 L288.39 165.31 L289.29 164.23 L290.18 163.14 L291.07 162.04 L291.97 160.92 L292.86 159.78 L293.75 158.62 L294.65 157.45 L295.54 156.24 L296.43 155.02 L297.33 153.77 L298.22 152.50 L299.11 151.20 L300.01 149.88 L300.90 148.54 L301.79 147.17 L302.69 145.78 L303.58 144.37 L304.47 142.93 L305.37 141.47 L306.26 139.99 L307.15 138.49 L308.05 136.97 L308.94 135.42 L309.83 133.86 L310.73 132.27 L311.62 130.66 L312.51 129.04 L313.41 127.39 L314.30 125.72 L315.19 124.04 L316.09 122.34 L316.98 120.62 L317.87 118.88 L318.77 117.12 L319.66 115.34 L320.55 113.54 L321.45 111.71 L322.34 109.86 L323.23 107.99 L324.13 106.08 L325.02 104.15 L325.91 102.19 L326.81 100.21 L327.70 98.23 L328.59 96.31 L329.49 94.41 L330.38 92.48 L331.28 90.49 L332.17 88.41 L333.06 86.31 L333.96 84.18 L334.85 82.00 L335.74 79.77 L336.64 77.45 L337.53 75.06 L338.42 72.56 L339.32 69.94 L340.21 66.98 L341.10 63.71 L342.00 60.42 L342.89 57.22 L343.78 53.98 L344.68 50.78 L345.57 47.68 L346.46 44.59 L347.36 41.48 L348.25 38.31 L349.14 35.05 L350.04 31.64 L350.93 28.03 L351.82 24.18 L352.72 20.15 L353.61 16.26 L354.50 12.28 L355.40 8.19 L356.29 3.99 L357.18 -0.32 L358.08 -4.76 L358.97 -9.32 L359.86 -14.02 L360.76 -18.85" stroke="#00a3ff"/>
<path d="M24.84 241.80 L25.74 241.80 L26.63 241.80 L27.52 241.80 L28.42 241.80 L29.31 241.80 L30.20 241.80 L31.10 241.80 L31.99 241.80 L32.88 241.80 L33.78 241.79 L34.67 241.79 L35.56 241.79 L36.46 241.79 L37.35 241.79 L38.24 241.79 L39.14 241.78 L40.03 241.78 L40.92 241.78 L41.82 241.78 L42.71 241.77 L43.60 241.77 L44.50 241.77 L45.39 241.76 L46.28 241.76 L47.18 241.75 L48.07 241.75 L48.96 241.74 L49.86 241.74 L50.75 241.73 L51.64 241.73 L52.54 241.72 L53.43 241.71 L54.32 241.71 L55.22 241.70 L56.11 241.69 L57.00 241.69 L57.90 241.68 L58.79 241.67 L59.68 241.66 L60.58 241.65 L61.47 241.64 L62.36 241.63 L63.26 241.62 L64.15 241.61 L65.04 241.60 L65.94 241.59 L66.83 241.57 L67.72 241.56 L68.62 241.55 L69.51 241.53 L70.40 241.52 L71.30 241.50 L72.19 241.49 L73.08 241.47 L73.98 241.46 L74.87 241.44 L75.77 241.42 L76.66 241.41 L77.55 241.39 L78.45 241.37 L79.34 241.35 L80.23 241.33 L81.13 241.31 L82.02 241.29 L82.91 241.26 L83.81 241.24 L84.70 241.22 L85.59 241.19 L86.49 241.17 L87.38 241.14 L88.27 241.12 L89.17 241.09 L90.06 241.06 L90.95 241.04 L91.85 241.01 L92.74 240.98 L93.63 240.95 L94.53 240.92 L95.42 240.89 L96.31 240.85 L97.21 240.82 L98.10 240.78 L98.99 240.75 L99.89 240.71 L100.78 240.68 L101.67 240.64 L102.57 240.60 L103.46 240.56 L104.35 240.52 L105.25 240.48 L106.14 240.44 L107.03 240.39 L107.93 240.35 L108.82 240.30 L109.71 240.26 L110.61 240.21 L111.50 240.16 L112.39 240.11 L113.29 240.06 L114.18 240.01 L115.07 239.96 L115.97 239.91 L116.86 239.85 L117.75 239.80 L118.65 239.74 L119.54 239.68 L120.43 239.62 L121.33 239.56 L122.22 239.50 L123.11 239.44 L124.01 239.37 L124.90 239.31 L125.80 239.24 L126.69 239.17 L127.58 239.10 L128.48 239.03 L129.37 238.96 L130.26 238.89 L131.16 238.81 L132.05 238.74 L132.94 238.66 L133.84 238.58 L134.73 238.50 L135.62 238.41 L136.52 238.33 L137.41 238.24 L138.30 238.15 L139.20 238.06 L140.09 237.97 L140.98 237.88 L141.88 237.78 L142.77 237.68 L143.66 237.58 L144.56 237.47 L145.45 237.37 L146.34 237.26 L147.24 237.15 L148.13 237.03 L149.02 236.91 L149.92 236.79 L150.81 236.67 L151.70 236.54 L152.60 236.42 L153.49 236.28 L154.38 236.15 L155.28 236.01 L156.17 235.87 L157.06 235.73 L157.96 235.58 L158.85 235.44 L159.74 235.28 L160.64 235.13 L161.53 234.97 L162.42 234.81 L163.32 234.65 L164.21 234.48 L165.10 234.32 L166.00 234.14 L166.89 233.97 L167.78 233.79 L168.68 233.62 L169.57 233.43 L170.46 233.25 L171.36 233.07 L172.25 232.88 L173.14 232.69 L174.04 232.49 L174.93 232.30 L175.82 232.11 L176.72 231.91 L177.61 231.71 L178.51 231.51 L179.40 231.31 L180.29 231.10 L181.19 230.90 L182.08 230.69 L182.97 230.48 L183.87 230.27 L184.76 230.05 L185.65 229.83 L186.55 229.62 L187.44 229.40 L188.33 229.17 L189.23 228.95 L190.12 228.72 L191.01 228.49 L191.91 228.26 L192.80 228.02 L193.69 227.78 L194.59 227.54 L195.48 227.30 L196.37 227.05 L197.27 226.80 L198.16 226.55 L199.05 226.29 L199.95 226.03 L200.84 225.77 L201.73 225.50 L202.63 225.23 L203.52 224.96 L204.41 224.68 L205.31 224.40 L206.20 224.11 L207.09 223.82 L207.99 223.52 L208.88 223.22 L209.77 222.91 L210.67 222.60 L211.56 222.28 L212.45 221.96 L213.35 221.63 L214.24 221.29 L215.13 220.95 L216.03 220.60 L216.92 220.24 L217.81 219.88 L218.71 219.52 L219.60 219.15 L220.49 218.77 L221.39 218.39 L222.28 218.00 L223.17 217.61 L224.07 217.22 L224.96 216.81 L225.85 216.41 L226.75 215.99 L227.64 215.58 L228.54 215.15 L229.43 214.72 L230.32 214.29 L231.22 213.85 L232.11 213.40 L233.00 212.95 L233.90 212.49 L234.79 212.02 L235.68 211.55 L236.58 211.08 L237.47 210.59 L238.36 210.10 L239.26 209.61 L240.15 209.10 L241.04 208.59 L241.94 208.08 L242.83 207.55 L243.72 207.02 L244.62 206.49 L245.51 205.94 L246.40 205.39 L247.30 204.83 L248.19 204.27 L249.08 203.70 L249.98 203.11 L250.87 202.53 L251.76 201.93 L252.66 201.33 L253.55 200.72 L254.44 200.10 L255.34 199.47 L256.23 198.83 L257.12 198.19 L258.02 197.54 L258.91 196.87 L259.80 196.20 L260.70 195.52 L261.59 194.83 L262.48 194.14 L263.38 193.43 L264.27 192.71 L265.16 191.98 L266.06 191.25 L266.95 190.50 L267.84 189.75 L268.74 188.98 L269.63 188.20 L270.52 187.42 L271.42 186.62 L272.31 185.81 L273.20 184.99 L274.10 184.16 L274.99 183.32 L275.88 182.46 L276.78 181.60 L277.67 180.72 L278.56 179.83 L279.46 178.93 L280.35 178.02 L281.25 177.10 L282.14 176.16 L283.03 175.21 L283.93 174.24 L284.82 173.27 L285.71 172.27 L286.61 171.27 L287.50 170.25 L288.39 169.22 L289.29 168.17 L290.18 167.11 L291.07 166.03 L291.97 164.94 L292.86 163.83 L293.75 162.71 L294.65 161.56 L295.54 160.40 L296.43 159.22 L297.33 158.01 L298.22 156.78 L299.11 155.54 L300.01 154.27 L300.90 152.98 L301.79 151.67 L302.69 150.34 L303.58 148.99 L304.47 147.61 L305.37 146.22 L306.26 144.80 L307.15 143.36 L308.05 141.90 L308.94 140.41 L309.83 138.91 L310.73 137.38 L311.62 135.83 L312.51 134.26 L313.41 132.66 L314.30 131.04 L315.19 129.40 L316.09 127.74 L316.98 126.06 L317.87 124.35 L318.77 122.62 L319.66 120.87 L320.55 119.09 L321.45 117.29 L322.34 115.46 L323.23 113.61 L324.13 111.72 L325.02 109.81 L325.91 107.87 L326.81 105.89 L327.70 103.89 L328.59 101.86 L329.49 99.80 L330.38 97.87 L331.28 96.01 L332.17 94.09 L333.06 92.16 L333.96 90.08 L334.85 87.86 L335.74 85.58 L336.64 83.24 L337.53 80.83 L338.42 78.35 L339.32 75.80 L340.21 73.16 L341.10 70.43 L342.00 67.47 L342.89 64.19 L343.78 60.83 L344.68 57.53 L345.57 54.18 L346.46 50.84 L347.36 47.58 L348.25 44.35 L349.14 41.08 L350.04 37.74 L350.93 34.27 L351.82 30.62 L352.72 26.70 L353.61 22.51 L354.50 18.26 L355.40 14.05 L356.29 9.70 L357.18 5.22 L358.08 0.60 L358.97 -4.17 L359.86 -9.11 L360.76 -14.22 L361.65 -19.50" stroke="#0029ff"/>
<path d="M24.84 241.80 L25.74 241.80 L26.63 241.80 L27.52 241.80 L28.42 241.80 L29.31 241.80 L30.20 241.80 L31.10 241.80 L31.99 241.80 L32.88 241.80 L33.78 241.80 L34.67 241.80 L35.56 241.80 L36.46 241.80 L37.35 241.80 L38.24 241.80 L39.14 241.80 L40.03 241.79 L40.92 241.79 L41.82 241.79 L42.71 241.79 L43.60 241.79 L44.50 241.79 L45.39 241.78 L46.28 241.78 L47.18 241.78 L48.07 241.77 L48.96 241.77 L49.86 241.77 L50.75 241.76 L51.64 241.76 L52.54 241.75 L53.43 241.75 L54.32 241.74 L55.22 241.74 L56.11 241.73 L57.00 241.72 L57.90 241.72 L58.79 241.71 L59.68 241.70 L60.58 241.69 L61.47 241.68 L62.36 241.67 L63.26 241.66 L64.15 241.65 L65.04 241.64 L65.94 241.63 L66.83 241.62 L67.72 241.61 L68.62 241.59 L69.51 241.58 L70.40 241.56 L71.30 241.55 L72.19 241.53 L73.08 241.52 L73.98 241.50 L74.87 241.48 L75.77 241.47 L76.66 241.45 L77.55 241.43 L78.45 241.41 L79.34 241.39 L80.23 241.37 L81.13 241.35 L82.02 241.32 L82.91 241.30 L83.81 241.28 L84.70 241.25 L85.59 241.23 L86.49 241.20 L87.38 241.18 L88.27 241.15 L89.17 241.12 L90.06 241.09 L90.95 241.06 L91.85 241.04 L92.74 241.00 L93.63 240.97 L94.53 240.94 L95.42 240.91 L96.31 240.87 L97.21 240.84 L98.10 240.80 L98.99 240.77 L99.89 240.73 L100.78 240.69 L101.67 240.66 L102.57 240.62 L103.46 240.58 L104.35 240.54 L105.25 240.50 L106.14 240.45 L107.03 240.41 L107.93 240.37 L108.82 240.32 L109.71 240.28 L110.61 240.24 L111.50 240.19 L112.39 240.14 L113.29 240.10 L114.18 240.05 L115.07 240.00 L115.97 239.95 L116.86 239.90 L117.75 239.85 L118.65 239.80 L119.54 239.75 L120.43 239.70 L121.33 239.64 L122.22 239.59 L123.11 239.53 L124.01 239.48 L124.90 239.42 L125.80 239.36 L126.69 239.30 L127.58 239.24 L128.48 239.18 L129.37 239.12 L130.26 239.06 L131.16 238.99 L132.05 238.92 L132.94 238.86 L133.84 238.79 L134.73 238.72 L135.62 238.64 L136.52 238.57 L137.41 238.49 L138.30 238.41 L139.20 238.33 L140.09 238.25 L140.98 238.17 L141.88 238.08 L142.77 237.99 L143.66 237.90 L144.56 237.80 L145.45 237.71 L146.34 237.61 L147.24 237.50 L148.13 237.40 L149.02 237.29 L149.92 237.18 L150.81 237.07 L151.70 236.95 L152.60 236.83 L153.49 236.71 L154.38 236.59 L155.28 236.46 L156.17 236.33 L157.06 236.20 L157.96 236.06 L158.85 235.92 L159.74 235.78 L160.64 235.64 L161.53 235.49 L162.42 235.34 L163.32 235.19 L164.21 235.04 L165.10 234.88 L166.00 234.72 L166.89 234.56 L167.78 234.40 L168.68 234.23 L169.57 234.06 L170.46 233.89 L171.36 233.72 L172.25 233.54 L173.14 233.37 L174.04 233.19 L174.93 233.01 L175.82 232.84 L176.72 232.66 L177.61 232.48 L178.51 232.29 L179.40 232.11 L180.29 231.93 L181.19 231.74 L182.08 231.55 L182.97 231.36 L183.87 231.16 L184.76 230.97 L185.65 230.77 L186.55 230.57 L187.44 230.37 L188.33 230.16 L189.23 229.95 L190.12 229.74 L191.01 229.53 L191.91 229.31 L192.80 229.09 L193.69 228.87 L194.59 228.65 L195.48 228.42 L196.37 228.19 L197.27 227.96 L198.16 227.72 L199.05 227.48 L199.95 227.24 L200.84 226.99 L201.73 226.74 L202.63 226.49 L203.52 226.23 L204.41 225.97 L205.31 225.70 L206.20 225.43 L207.09 225.16 L207.99 224.88 L208.88 224.60 L209.77 224.31 L210.67 224.02 L211.56 223.72 L212.45 223.42 L213.35 223.11 L214.24 222.80 L215.13 222.48 L216.03 222.16 L216.92 221.83 L217.81 221.50 L218.71 221.16 L219.60 220.81 L220.49 220.46 L221.39 220.11 L222.28 219.75 L223.17 219.39 L224.07 219.02 L224.96 218.64 L225.85 218.26 L226.75 217.88 L227.64 217.49 L228.54 217.09 L229.43 216.69 L230.32 216.28 L231.22 215.87 L232.11 215.45 L233.00 215.02 L233.90 214.59 L234.79 214.15 L235.68 213.71 L236.58 213.26 L237.47 212.80 L238.36 212.34 L239.26 211.87 L240.15 211.39 L241.04 210.91 L241.94 210.42 L242.83 209.92 L243.72 209.42 L244.62 208.90 L245.51 208.38 L246.40 207.86 L247.30 207.32 L248.19 206.78 L249.08 206.23 L249.98 205.68 L250.87 205.11 L251.76 204.54 L252.66 203.96 L253.55 203.37 L254.44 202.77 L255.34 202.16 L256.23 201.54 L257.12 200.92 L258.02 200.29 L258.91 199.65 L259.80 199.00 L260.70 198.34 L261.59 197.67 L262.48 197.00 L263.38 196.31 L264.27 195.62 L265.16 194.91 L266.06 194.20 L266.95 193.48 L267.84 192.75 L268.74 192.00 L269.63 191.25 L270.52 190.49 L271.42 189.72 L272.31 188.93 L273.20 188.14 L274.10 187.34 L274.99 186.52 L275.88 185.70 L276.78 184.86 L277.67 184.01 L278.56 183.15 L279.46 182.28 L280.35 181.40 L281.25 180.50 L282.14 179.60 L283.03 178.68 L283.93 177.75 L284.82 176.80 L285.71 175.85 L286.61 174.88 L287.50 173.90 L288.39 172.90 L289.29 171.89 L290.18 170.86 L291.07 169.83 L291.97 168.77 L292.86 167.71 L293.75 166.62 L294.65 165.52 L295.54 164.39 L296.43 163.24 L297.33 162.06 L298.22 160.87 L299.11 159.65 L300.01 158.40 L300.90 157.14 L301.79 155.85 L302.69 154.53 L303.58 153.20 L304.47 151.84 L305.37 150.45 L306.26 149.05 L307.15 147.62 L308.05 146.17 L308.94 144.69 L309.83 143.19 L310.73 141.67 L311.62 140.13 L312.51 138.56 L313.41 136.98 L314.30 135.37 L315.19 133.73 L316.09 132.08 L316.98 130.40 L317.87 128.71 L318.77 126.99 L319.66 125.25 L320.55 123.49 L321.45 121.71 L322.34 119.92 L323.23 118.12 L324.13 116.32 L325.02 114.53 L325.91 112.73 L326.81 110.91 L327.70 109.06 L328.59 107.18 L329.49 105.26 L330.38 103.28 L331.28 101.23 L332.17 99.11 L333.06 96.94 L333.96 94.71 L334.85 92.44 L335.74 90.14 L336.64 87.83 L337.53 85.53 L338.42 83.21 L339.32 80.85 L340.21 78.43 L341.10 75.92 L342.00 73.30 L342.89 70.53 L343.78 67.53 L344.68 64.26 L345.57 60.88 L346.46 57.51 L347.36 54.06 L348.25 50.61 L349.14 47.21 L350.04 43.79 L350.93 40.31 L351.82 36.72 L352.72 32.98 L353.61 29.03 L354.50 24.69 L355.40 20.05 L356.29 15.66 L357.18 11.12 L358.08 6.41 L358.97 1.54 L359.86 -3.52 L360.76 -8.76 L361.65 -14.21 L362.54 -19.88" stroke="#5200ff"/>
<path d="M24.84 241.80 L25.74 241.80 L26.63 241.80 L27.52 241.80 L28.42 241.80 L29.31 241.80 L30.20 241.80 L31.10 241.80 L31.99 241.80 L32.88 241.80 L33.78 241.80 L34.67 241.80 L35.56 241.80 L36.46 241.80 L37.35 241.80 L38.24 241.80 L39.14 241.80 L40.03 241.80 L40.92 241.80 L41.82 241.80 L42.71 241.80 L43.60 241.80 L44.50 241.80 L45.39 241.80 L46.28 241.79 L47.18 241.79 L48.07 241.79 L48.96 241.79 L49.86 241.79 L50.75 241.79 L51.64 241.78 L52.54 241.78 L53.43 241.78 L54.32 241.77 L55.22 241.77 L56.11 241.77 L57.00 241.76 L57.90 241.76 L58.79 241.75 L59.68 241.75 L60.58 241.74 L61.47 241.73 L62.36 241.73 L63.26 241.72 L64.15 241.71 L65.04 241.70 L65.94 241.69 L66.83 241.68 L67.72 241.67 L68.62 241.66 L69.51 241.64 L70.40 241.63 L71.30 241.62 L72.19 241.60 L73.08 241.59 L73.98 241.57 L74.87 241.55 L75.77 241.54 L76.66 241.52 L77.55 241.50 L78.45 241.48 L79.34 241.46 L80.23 241.44 L81.13 241.41 L82.02 241.39 L82.91 241.37 L83.81 241.34 L84.70 241.32 L85.59 241.29 L86.49 241.27 L87.38 241.24 L88.27 241.21 L89.17 241.18 L90.06 241.15 L90.95 241.12 L91.85 241.09 L92.74 241.05 L93.63 241.02 L94.53 240.99 L95.42 240.95 L96.31 240.92 L97.21 240.88 L98.10 240.84 L98.99 240.80 L99.89 240.76 L100.78 240.72 L101.67 240.68 L102.57 240.64 L103.46 240.60 L104.35 240.56 L105.25 240.51 L106.14 240.47 L107.03 240.43 L107.93 240.38 L108.82 240.34 L109.71 240.29 L110.61 240.24 L111.50 240.20 L112.39 240.15 L113.29 240.10 L114.18 240.05 L115.07 240.01 L115.97 239.96 L116.86 239.91 L117.75 239.86 L118.65 239.80 L119.54 239.75 L120.43 239.70 L121.33 239.65 L122.22 239.59 L123.11 239.54 L124.01 239.48 L124.90 239.43 L125.80 239.37 L126.69 239.31 L127.58 239.25 L128.48 239.20 L129.37 239.13 L130.26 239.07 L131.16 239.01 L132.05 238.95 L132.94 238.88 L133.84 238.81 L134.73 238.75 L135.62 238.68 L136.52 238.61 L137.41 238.53 L138.30 238.46 L139.20 238.38 L140.09 238.30 L140.98 238.22 L141.88 238.14 L142.77 238.06 L143.66 237.97 L144.56 237.88 L145.45 237.79 L146.34 237.70 L147.24 237.61 L148.13 237.51 L149.02 237.41 L149.92 237.31 L150.81 237.21 L151.70 237.11 L152.60 237.00 L153.49 236.89 L154.38 236.78 L155.28 236.66 L156.17 236.55 L157.06 236.43 L157.96 236.31 L158.85 236.19 L159.74 236.06 L160.64 235.94 L161.53 235.81 L162.42 235.68 L163.32 235.54 L164.21 235.41 L165.10 235.27 L166.00 235.13 L166.89 234.99 L167.78 234.85 L168.68 234.70 L169.57 234.55 L170.46 234.40 L171.36 234.25 L172.25 234.10 L173.14 233.95 L174.04 233.79 L174.93 233.64 L175.82 233.48 L176.72 233.32 L177.61 233.16 L178.51 233.00 L179.40 232.84 L180.29 232.67 L181.19 232.50 L182.08 232.33 L182.97 232.16 L183.87 231.98 L184.76 231.81 L185.65 231.62 L186.55 231.44 L187.44 231.25 L188.33 231.06 L189.23 230.87 L190.12 230.67 L191.01 230.47 L191.91 230.27 L192.80 230.07 L193.69 229.86 L194.59 229.65 L195.48 229.43 L196.37 229.21 L197.27 228.99 L198.16 228.76 L199.05 228.54 L199.95 228.30 L200.84 228.07 L201.73 227.83 L202.63 227.58 L203.52 227.34 L204.41 227.08 L205.31 226.83 L206.20 226.57 L207.09 226.31 L207.99 226.04 L208.88 225.77 L209.77 225.49 L210.67 225.21 L211.56 224.93 L212.45 224.64 L213.35 224.35 L214.24 224.05 L215.13 223.75 L216.03 223.44 L216.92 223.13 L217.81 222.82 L218.71 222.50 L219.60 222.17 L220.49 221.84 L221.39 221.51 L222.28 221.17 L223.17 220.83 L224.07 220.48 L224.96 220.13 L225.85 219.77 L226.75 219.41 L227.64 219.04 L228.54 218.67 L229.43 218.30 L230.32 217.91 L231.22 217.53 L232.11 217.13 L233.00 216.73 L233.90 216.33 L234.79 215.92 L235.68 215.50 L236.58 215.08 L237.47 214.65 L238.36 214.22 L239.26 213.78 L240.15 213.33 L241.04 212.88 L241.94 212.42 L242.83 211.95 L243.72 211.48 L244.62 211.00 L245.51 210.51 L246.40 210.01 L247.30 209.51 L248.19 209.00 L249.08 208.48 L249.98 207.96 L250.87 207.43 L251.76 206.88 L252.66 206.34 L253.55 205.78 L254.44 205.21 L255.34 204.64 L256.23 204.05 L257.12 203.46 L258.02 202.86 L258.91 202.25 L259.80 201.64 L260.70 201.01 L261.59 200.38 L262.48 199.74 L263.38 199.09 L264.27 198.43 L265.16 197.76 L266.06 197.08 L266.95 196.39 L267.84 195.69 L268.74 194.99 L269.63 194.27 L270.52 193.54 L271.42 192.81 L272.31 192.06 L273.20 191.30 L274.10 190.53 L274.99 189.75 L275.88 188.96 L276.78 188.16 L277.67 187.35 L278.56 186.53 L279.46 185.69 L280.35 184.84 L281.25 183.98 L282.14 183.11 L283.03 182.23 L283.93 181.33 L284.82 180.42 L285.71 179.50 L286.61 178.56 L287.50 177.61 L288.39 176.64 L289.29 175.67 L290.18 174.67 L291.07 173.66 L291.97 172.64 L292.86 171.60 L293.75 170.55 L294.65 169.47 L295.54 168.38 L296.43 167.27 L297.33 166.13 L298.22 164.98 L299.11 163.80 L300.01 162.61 L300.90 161.39 L301.79 160.15 L302.69 158.89 L303.58 157.61 L304.47 156.31 L305.37 154.99 L306.26 153.64 L307.15 152.27 L308.05 150.88 L308.94 149.47 L309.83 148.03 L310.73 146.58 L311.62 145.09 L312.51 143.59 L313.41 142.06 L314.30 140.51 L315.19 138.93 L316.09 137.33 L316.98 135.71 L317.87 134.06 L318.77 132.38 L319.66 130.69 L320.55 128.96 L321.45 127.21 L322.34 125.44 L323.23 123.64 L324.13 121.81 L325.02 119.96 L325.91 118.07 L326.81 116.15 L327.70 114.20 L328.59 112.21 L329.49 110.18 L330.38 108.13 L331.28 106.03 L332.17 103.92 L333.06 101.79 L333.96 99.62 L334.85 97.43 L335.74 95.22 L336.64 92.98 L337.53 90.70 L338.42 88.39 L339.32 86.09 L340.21 83.78 L341.10 81.43 L342.00 79.01 L342.89 76.50 L343.78 73.86 L344.68 71.06 L345.57 68.04 L346.46 64.76 L347.36 61.33 L348.25 57.85 L349.14 54.25 L350.04 50.65 L350.93 47.12 L351.82 43.58 L352.72 39.96 L353.61 36.22 L354.50 32.29 L355.40 28.08 L356.29 23.39 L357.18 18.55 L358.08 13.87 L358.97 9.00 L359.86 3.94 L360.76 -1.33 L361.65 -6.82 L362.54 -12.54 L363.44 -18.53" stroke="#cc00ff"/>
</g>
<g clip-path="url(#cr)" fill="none" stroke-width="1.55" stroke-linejoin="round">
<path d="M474.00 240.95 L475.71 240.96 L477.43 240.98 L479.14 241.00 L480.86 241.02 L482.57 241.03 L484.28 241.05 L486.00 241.07 L487.71 241.08 L489.43 241.10 L491.14 241.11 L492.85 241.13 L494.57 241.14 L496.28 241.16 L498.00 241.17 L499.71 241.18 L501.43 241.19 L503.14 241.21 L504.85 241.22 L506.57 241.23 L508.28 241.24 L510.00 241.25 L511.71 241.26 L513.42 241.28 L515.14 241.29 L516.85 241.30 L518.57 241.31 L520.28 241.32 L521.99 241.32 L523.71 241.33 L525.42 241.34 L527.14 241.35 L528.85 241.36 L530.56 241.37 L532.28 241.38 L533.99 241.38 L535.71 241.39 L537.42 241.40 L539.13 241.41 L540.85 241.41 L542.56 241.42 L544.28 241.43 L545.99 241.43 L547.71 241.44 L549.42 241.45 L551.13 241.45 L552.85 241.46 L554.56 241.47 L556.28 241.47 L557.99 241.48 L559.70 241.48 L561.42 241.49 L563.13 241.49 L564.85 241.50 L566.56 241.50 L568.27 241.51 L569.99 241.51 L571.70 241.52 L573.42 241.52 L575.13 241.53 L576.84 241.53 L578.56 241.54 L580.27 241.54 L581.99 241.54 L583.70 241.55 L585.41 241.55 L587.13 241.56 L588.84 241.56 L590.56 241.56 L592.27 241.57 L593.98 241.57 L595.70 241.57 L597.41 241.58 L599.13 241.58 L600.84 241.58 L602.56 241.59 L604.27 241.59 L605.98 241.59 L607.70 241.59 L609.41 241.60 L611.13 241.60 L612.84 241.60 L614.55 241.61 L616.27 241.61 L617.98 241.61 L619.70 241.61 L621.41 241.62 L623.12 241.62 L624.84 241.62 L626.55 241.62 L628.27 241.63 L629.98 241.63 L631.69 241.63 L633.41 241.63 L635.12 241.63 L636.84 241.64 L638.55 241.64 L640.26 241.64 L641.98 241.64 L643.69 241.64 L645.41 241.65 L647.12 241.65 L648.84 241.65 L650.55 241.65 L652.26 241.65 L653.98 241.65 L655.69 241.66 L657.41 241.66 L659.12 241.66 L660.83 241.66 L662.55 241.66 L664.26 241.66 L665.98 241.67 L667.69 241.67 L669.40 241.67 L671.12 241.67 L672.83 241.67 L674.55 241.67 L676.26 241.67 L677.97 241.67 L679.69 241.68 L681.40 241.68 L683.12 241.68 L684.83 241.68 L686.54 241.68 L688.26 241.68 L689.97 241.68 L691.69 241.68 L693.40 241.68 L695.12 241.69 L696.83 241.69 L698.54 241.69 L700.26 241.69 L701.97 241.69 L703.69 241.69 L705.40 241.69 L707.11 241.69 L708.83 241.69 L710.54 241.69 L712.26 241.69 L713.97 241.70 L715.68 241.70 L717.40 241.70 L719.11 241.70 L720.83 241.70 L722.54 241.70 L724.25 241.70 L725.97 241.70 L727.68 241.70 L729.40 241.70 L731.11 241.70 L732.82 241.70 L734.54 241.70 L736.25 241.70 L737.97 241.71 L739.68 241.71 L741.39 241.71 L743.11 241.71 L744.82 241.71 L746.54 241.71 L748.25 241.71 L749.97 241.71 L751.68 241.71 L753.39 241.71 L755.11 241.71 L756.82 241.71 L758.54 241.71 L760.25 241.71 L761.96 241.71 L763.68 241.71 L765.39 241.71 L767.11 241.71 L768.82 241.71 L770.53 241.71 L772.25 241.71 L773.96 241.71 L775.68 241.71 L777.39 241.72 L779.10 241.72 L780.82 241.72 L782.53 241.72 L784.25 241.72 L785.96 241.72 L787.67 241.72 L789.39 241.72 L791.10 241.72 L792.82 241.72 L794.53 241.72 L796.25 241.72 L797.96 241.72 L799.67 241.72 L801.39 241.72 L803.10 241.72 L804.82 241.72 L806.53 241.72 L808.24 241.72 L809.96 241.72 L811.67 241.72 L813.39 241.72 L815.10 241.72" stroke="#ff7a00"/>
<path d="M470.95 235.65 L472.68 235.82 L474.41 235.98 L476.14 236.13 L477.87 236.28 L479.60 236.42 L481.33 236.56 L483.06 236.69 L484.79 236.82 L486.51 236.94 L488.24 237.06 L489.97 237.18 L491.70 237.29 L493.43 237.39 L495.16 237.50 L496.89 237.60 L498.62 237.69 L500.35 237.79 L502.08 237.88 L503.81 237.96 L505.54 238.05 L507.27 238.13 L509.00 238.20 L510.73 238.28 L512.46 238.35 L514.18 238.42 L515.91 238.49 L517.64 238.56 L519.37 238.62 L521.10 238.69 L522.83 238.75 L524.56 238.80 L526.29 238.86 L528.02 238.91 L529.75 238.97 L531.48 239.02 L533.21 239.07 L534.94 239.12 L536.67 239.16 L538.40 239.21 L540.13 239.25 L541.86 239.29 L543.58 239.33 L545.31 239.37 L547.04 239.41 L548.77 239.45 L550.50 239.49 L552.23 239.52 L553.96 239.56 L555.69 239.59 L557.42 239.62 L559.15 239.65 L560.88 239.69 L562.61 239.72 L564.34 239.74 L566.07 239.77 L567.80 239.80 L569.53 239.83 L571.26 239.85 L572.98 239.88 L574.71 239.90 L576.44 239.92 L578.17 239.95 L579.90 239.97 L581.63 239.99 L583.36 240.01 L585.09 240.03 L586.82 240.05 L588.55 240.07 L590.28 240.09 L592.01 240.11 L593.74 240.13 L595.47 240.14 L597.20 240.16 L598.93 240.18 L600.65 240.19 L602.38 240.21 L604.11 240.22 L605.84 240.24 L607.57 240.25 L609.30 240.27 L611.03 240.28 L612.76 240.29 L614.49 240.31 L616.22 240.32 L617.95 240.33 L619.68 240.34 L621.41 240.35 L623.14 240.36 L624.87 240.37 L626.60 240.39 L628.33 240.40 L630.05 240.41 L631.78 240.41 L633.51 240.42 L635.24 240.43 L636.97 240.44 L638.70 240.45 L640.43 240.46 L642.16 240.47 L643.89 240.48 L645.62 240.48 L647.35 240.49 L649.08 240.50 L650.81 240.50 L652.54 240.51 L654.27 240.52 L656.00 240.52 L657.72 240.53 L659.45 240.54 L661.18 240.54 L662.91 240.55 L664.64 240.55 L666.37 240.56 L668.10 240.56 L669.83 240.57 L671.56 240.57 L673.29 240.58 L675.02 240.58 L676.75 240.59 L678.48 240.59 L680.21 240.60 L681.94 240.60 L683.67 240.60 L685.40 240.61 L687.12 240.61 L688.85 240.62 L690.58 240.62 L692.31 240.62 L694.04 240.62 L695.77 240.63 L697.50 240.63 L699.23 240.63 L700.96 240.64 L702.69 240.64 L704.42 240.64 L706.15 240.64 L707.88 240.65 L709.61 240.65 L711.34 240.65 L713.07 240.65 L714.79 240.65 L716.52 240.66 L718.25 240.66 L719.98 240.66 L721.71 240.66 L723.44 240.66 L725.17 240.66 L726.90 240.67 L728.63 240.67 L730.36 240.67 L732.09 240.67 L733.82 240.67 L735.55 240.67 L737.28 240.67 L739.01 240.67 L740.74 240.68 L742.47 240.68 L744.19 240.68 L745.92 240.68 L747.65 240.68 L749.38 240.68 L751.11 240.68 L752.84 240.68 L754.57 240.68 L756.30 240.68 L758.03 240.68 L759.76 240.68 L761.49 240.68 L763.22 240.68 L764.95 240.68 L766.68 240.69 L768.41 240.69 L770.14 240.69 L771.87 240.69 L773.59 240.69 L775.32 240.69 L777.05 240.69 L778.78 240.69 L780.51 240.69 L782.24 240.69 L783.97 240.69 L785.70 240.69 L787.43 240.69 L789.16 240.69 L790.89 240.69 L792.62 240.69 L794.35 240.69 L796.08 240.69 L797.81 240.69 L799.54 240.69 L801.26 240.69 L802.99 240.69 L804.72 240.69 L806.45 240.69 L808.18 240.69 L809.91 240.69 L811.64 240.69 L813.37 240.69 L815.10 240.69" stroke="#fff500"/>
<path d="M452.00 220.78 L453.82 221.30 L455.65 221.80 L457.47 222.27 L459.30 222.73 L461.12 223.18 L462.95 223.60 L464.77 224.01 L466.60 224.40 L468.42 224.78 L470.25 225.14 L472.07 225.50 L473.90 225.83 L475.72 226.16 L477.54 226.47 L479.37 226.77 L481.19 227.07 L483.02 227.35 L484.84 227.62 L486.67 227.88 L488.49 228.14 L490.32 228.38 L492.14 228.62 L493.97 228.85 L495.79 229.07 L497.62 229.28 L499.44 229.49 L501.26 229.69 L503.09 229.89 L504.91 230.08 L506.74 230.26 L508.56 230.44 L510.39 230.61 L512.21 230.77 L514.04 230.94 L515.86 231.09 L517.69 231.25 L519.51 231.39 L521.34 231.54 L523.16 231.68 L524.98 231.81 L526.81 231.95 L528.63 232.08 L530.46 232.20 L532.28 232.32 L534.11 232.44 L535.93 232.56 L537.76 232.67 L539.58 232.78 L541.41 232.89 L543.23 232.99 L545.06 233.09 L546.88 233.19 L548.71 233.29 L550.53 233.39 L552.35 233.48 L554.18 233.57 L556.00 233.66 L557.83 233.74 L559.65 233.83 L561.48 233.91 L563.30 233.99 L565.13 234.07 L566.95 234.15 L568.78 234.23 L570.60 234.30 L572.43 234.37 L574.25 234.45 L576.07 234.52 L577.90 234.58 L579.72 234.65 L581.55 234.72 L583.37 234.78 L585.20 234.85 L587.02 234.91 L588.85 234.97 L590.67 235.03 L592.50 235.09 L594.32 235.15 L596.15 235.21 L597.97 235.27 L599.79 235.32 L601.62 235.38 L603.44 235.43 L605.27 235.48 L607.09 235.54 L608.92 235.59 L610.74 235.64 L612.57 235.69 L614.39 235.74 L616.22 235.79 L618.04 235.83 L619.87 235.88 L621.69 235.93 L623.51 235.97 L625.34 236.02 L627.16 236.06 L628.99 236.11 L630.81 236.15 L632.64 236.20 L634.46 236.24 L636.29 236.28 L638.11 236.32 L639.94 236.36 L641.76 236.40 L643.59 236.44 L645.41 236.48 L647.23 236.52 L649.06 236.56 L650.88 236.60 L652.71 236.64 L654.53 236.67 L656.36 236.71 L658.18 236.75 L660.01 236.78 L661.83 236.82 L663.66 236.85 L665.48 236.89 L667.31 236.92 L669.13 236.96 L670.95 236.99 L672.78 237.02 L674.60 237.06 L676.43 237.09 L678.25 237.12 L680.08 237.15 L681.90 237.19 L683.73 237.22 L685.55 237.25 L687.38 237.28 L689.20 237.31 L691.03 237.34 L692.85 237.37 L694.67 237.39 L696.50 237.42 L698.32 237.45 L700.15 237.48 L701.97 237.51 L703.80 237.53 L705.62 237.56 L707.45 237.59 L709.27 237.61 L711.10 237.64 L712.92 237.66 L714.75 237.69 L716.57 237.71 L718.39 237.74 L720.22 237.76 L722.04 237.78 L723.87 237.81 L725.69 237.83 L727.52 237.85 L729.34 237.87 L731.17 237.89 L732.99 237.91 L734.82 237.93 L736.64 237.95 L738.47 237.97 L740.29 237.99 L742.12 238.01 L743.94 238.03 L745.76 238.05 L747.59 238.06 L749.41 238.08 L751.24 238.10 L753.06 238.11 L754.89 238.13 L756.71 238.15 L758.54 238.16 L760.36 238.17 L762.19 238.19 L764.01 238.20 L765.84 238.21 L767.66 238.23 L769.48 238.24 L771.31 238.25 L773.13 238.26 L774.96 238.27 L776.78 238.28 L778.61 238.29 L780.43 238.30 L782.26 238.31 L784.08 238.31 L785.91 238.32 L787.73 238.33 L789.56 238.33 L791.38 238.34 L793.20 238.34 L795.03 238.34 L796.85 238.35 L798.68 238.35 L800.50 238.35 L802.33 238.35 L804.15 238.35 L805.98 238.35 L807.80 238.35 L809.63 238.35 L811.45 238.35 L813.28 238.34 L815.10 238.34" stroke="#8fff00"/>
<path d="M452.00 203.79 L453.82 204.40 L455.65 205.00 L457.47 205.58 L459.30 206.15 L461.12 206.71 L462.95 207.25 L464.77 207.77 L466.60 208.29 L468.42 208.79 L470.25 209.27 L472.07 209.75 L473.90 210.21 L475.72 210.67 L477.54 211.11 L479.37 211.54 L481.19 211.96 L483.02 212.37 L484.84 212.77 L486.67 213.17 L488.49 213.55 L490.32 213.92 L492.14 214.29 L493.97 214.65 L495.79 214.99 L497.62 215.33 L499.44 215.67 L501.26 215.99 L503.09 216.31 L504.91 216.62 L506.74 216.93 L508.56 217.22 L510.39 217.51 L512.21 217.80 L514.04 218.08 L515.86 218.35 L517.69 218.61 L519.51 218.88 L521.34 219.13 L523.16 219.38 L524.98 219.62 L526.81 219.86 L528.63 220.10 L530.46 220.33 L532.28 220.55 L534.11 220.77 L535.93 220.99 L537.76 221.20 L539.58 221.41 L541.41 221.61 L543.23 221.81 L545.06 222.00 L546.88 222.19 L548.71 222.38 L550.53 222.56 L552.35 222.74 L554.18 222.92 L556.00 223.09 L557.83 223.26 L559.65 223.43 L561.48 223.59 L563.30 223.75 L565.13 223.91 L566.95 224.06 L568.78 224.21 L570.60 224.36 L572.43 224.51 L574.25 224.65 L576.07 224.79 L577.90 224.93 L579.72 225.07 L581.55 225.20 L583.37 225.33 L585.20 225.46 L587.02 225.58 L588.85 225.71 L590.67 225.83 L592.50 225.95 L594.32 226.07 L596.15 226.18 L597.97 226.30 L599.79 226.41 L601.62 226.52 L603.44 226.63 L605.27 226.73 L607.09 226.84 L608.92 226.94 L610.74 227.04 L612.57 227.14 L614.39 227.24 L616.22 227.33 L618.04 227.43 L619.87 227.52 L621.69 227.61 L623.51 227.70 L625.34 227.79 L627.16 227.88 L628.99 227.97 L630.81 228.05 L632.64 228.13 L634.46 228.22 L636.29 228.30 L638.11 228.38 L639.94 228.46 L641.76 228.54 L643.59 228.61 L645.41 228.69 L647.23 228.76 L649.06 228.84 L650.88 228.91 L652.71 228.98 L654.53 229.05 L656.36 229.12 L658.18 229.19 L660.01 229.25 L661.83 229.32 L663.66 229.39 L665.48 229.45 L667.31 229.52 L669.13 229.58 L670.95 229.64 L672.78 229.70 L674.60 229.77 L676.43 229.83 L678.25 229.88 L680.08 229.94 L681.90 230.00 L683.73 230.06 L685.55 230.12 L687.38 230.17 L689.20 230.23 L691.03 230.28 L692.85 230.34 L694.67 230.39 L696.50 230.44 L698.32 230.50 L700.15 230.55 L701.97 230.60 L703.80 230.65 L705.62 230.70 L707.45 230.75 L709.27 230.80 L711.10 230.85 L712.92 230.90 L714.75 230.94 L716.57 230.99 L718.39 231.04 L720.22 231.08 L722.04 231.13 L723.87 231.18 L725.69 231.22 L727.52 231.27 L729.34 231.31 L731.17 231.35 L732.99 231.40 L734.82 231.44 L736.64 231.48 L738.47 231.53 L740.29 231.57 L742.12 231.61 L743.94 231.65 L745.76 231.69 L747.59 231.74 L749.41 231.78 L751.24 231.82 L753.06 231.86 L754.89 231.90 L756.71 231.94 L758.54 231.98 L760.36 232.01 L762.19 232.05 L764.01 232.09 L765.84 232.13 L767.66 232.17 L769.48 232.21 L771.31 232.24 L773.13 232.28 L774.96 232.32 L776.78 232.36 L778.61 232.39 L780.43 232.43 L782.26 232.47 L784.08 232.50 L785.91 232.54 L787.73 232.57 L789.56 232.61 L791.38 232.64 L793.20 232.68 L795.03 232.71 L796.85 232.75 L798.68 232.78 L800.50 232.82 L802.33 232.85 L804.15 232.89 L805.98 232.92 L807.80 232.96 L809.63 232.99 L811.45 233.02 L813.28 233.06 L815.10 233.09" stroke="#14ff00"/>
<path d="M452.00 181.73 L453.82 182.39 L455.65 183.02 L457.47 183.65 L459.30 184.26 L461.12 184.87 L462.95 185.46 L464.77 186.04 L466.60 186.61 L468.42 187.17 L470.25 187.71 L472.07 188.25 L473.90 188.78 L475.72 189.30 L477.54 189.81 L479.37 190.31 L481.19 190.80 L483.02 191.28 L484.84 191.76 L486.67 192.22 L488.49 192.68 L490.32 193.13 L492.14 193.58 L493.97 194.01 L495.79 194.44 L497.62 194.86 L499.44 195.27 L501.26 195.68 L503.09 196.08 L504.91 196.47 L506.74 196.86 L508.56 197.24 L510.39 197.61 L512.21 197.98 L514.04 198.34 L515.86 198.69 L517.69 199.05 L519.51 199.39 L521.34 199.73 L523.16 200.06 L524.98 200.39 L526.81 200.72 L528.63 201.04 L530.46 201.35 L532.28 201.66 L534.11 201.97 L535.93 202.27 L537.76 202.56 L539.58 202.85 L541.41 203.14 L543.23 203.42 L545.06 203.70 L546.88 203.98 L548.71 204.25 L550.53 204.52 L552.35 204.78 L554.18 205.04 L556.00 205.29 L557.83 205.55 L559.65 205.80 L561.48 206.04 L563.30 206.28 L565.13 206.52 L566.95 206.76 L568.78 206.99 L570.60 207.22 L572.43 207.45 L574.25 207.67 L576.07 207.89 L577.90 208.11 L579.72 208.32 L581.55 208.54 L583.37 208.75 L585.20 208.95 L587.02 209.16 L588.85 209.36 L590.67 209.56 L592.50 209.76 L594.32 209.95 L596.15 210.14 L597.97 210.33 L599.79 210.52 L601.62 210.71 L603.44 210.89 L605.27 211.07 L607.09 211.25 L608.92 211.42 L610.74 211.60 L612.57 211.77 L614.39 211.94 L616.22 212.11 L618.04 212.28 L619.87 212.44 L621.69 212.61 L623.51 212.77 L625.34 212.93 L627.16 213.09 L628.99 213.24 L630.81 213.40 L632.64 213.55 L634.46 213.70 L636.29 213.85 L638.11 214.00 L639.94 214.15 L641.76 214.29 L643.59 214.43 L645.41 214.58 L647.23 214.72 L649.06 214.86 L650.88 214.99 L652.71 215.13 L654.53 215.27 L656.36 215.40 L658.18 215.53 L660.01 215.66 L661.83 215.79 L663.66 215.92 L665.48 216.05 L667.31 216.17 L669.13 216.30 L670.95 216.42 L672.78 216.54 L674.60 216.67 L676.43 216.79 L678.25 216.91 L680.08 217.02 L681.90 217.14 L683.73 217.26 L685.55 217.37 L687.38 217.48 L689.20 217.60 L691.03 217.71 L692.85 217.82 L694.67 217.93 L696.50 218.04 L698.32 218.14 L700.15 218.25 L701.97 218.36 L703.80 218.46 L705.62 218.56 L707.45 218.67 L709.27 218.77 L711.10 218.87 L712.92 218.97 L714.75 219.07 L716.57 219.17 L718.39 219.26 L720.22 219.36 L722.04 219.46 L723.87 219.55 L725.69 219.65 L727.52 219.74 L729.34 219.83 L731.17 219.92 L732.99 220.01 L734.82 220.10 L736.64 220.19 L738.47 220.28 L740.29 220.37 L742.12 220.45 L743.94 220.54 L745.76 220.63 L747.59 220.71 L749.41 220.79 L751.24 220.88 L753.06 220.96 L754.89 221.04 L756.71 221.12 L758.54 221.20 L760.36 221.28 L762.19 221.36 L764.01 221.44 L765.84 221.51 L767.66 221.59 L769.48 221.67 L771.31 221.74 L773.13 221.81 L774.96 221.89 L776.78 221.96 L778.61 222.03 L780.43 222.10 L782.26 222.18 L784.08 222.24 L785.91 222.31 L787.73 222.38 L789.56 222.45 L791.38 222.52 L793.20 222.58 L795.03 222.65 L796.85 222.72 L798.68 222.78 L800.50 222.84 L802.33 222.91 L804.15 222.97 L805.98 223.03 L807.80 223.09 L809.63 223.15 L811.45 223.21 L813.28 223.27 L815.10 223.33" stroke="#00ff66"/>
<path d="M452.00 151.89 L453.82 152.48 L455.65 153.07 L457.47 153.66 L459.30 154.23 L461.12 154.81 L462.95 155.37 L464.77 155.93 L466.60 156.48 L468.42 157.03 L470.25 157.58 L472.07 158.11 L473.90 158.64 L475.72 159.17 L477.54 159.69 L479.37 160.20 L481.19 160.71 L483.02 161.22 L484.84 161.72 L486.67 162.21 L488.49 162.70 L490.32 163.18 L492.14 163.66 L493.97 164.13 L495.79 164.60 L497.62 165.07 L499.44 165.53 L501.26 165.98 L503.09 166.43 L504.91 166.88 L506.74 167.32 L508.56 167.75 L510.39 168.19 L512.21 168.61 L514.04 169.04 L515.86 169.46 L517.69 169.87 L519.51 170.28 L521.34 170.69 L523.16 171.09 L524.98 171.49 L526.81 171.88 L528.63 172.27 L530.46 172.66 L532.28 173.04 L534.11 173.42 L535.93 173.79 L537.76 174.16 L539.58 174.53 L541.41 174.90 L543.23 175.26 L545.06 175.61 L546.88 175.96 L548.71 176.31 L550.53 176.66 L552.35 177.00 L554.18 177.34 L556.00 177.68 L557.83 178.01 L559.65 178.34 L561.48 178.67 L563.30 178.99 L565.13 179.31 L566.95 179.62 L568.78 179.94 L570.60 180.25 L572.43 180.56 L574.25 180.86 L576.07 181.16 L577.90 181.46 L579.72 181.76 L581.55 182.05 L583.37 182.34 L585.20 182.63 L587.02 182.91 L588.85 183.19 L590.67 183.47 L592.50 183.75 L594.32 184.02 L596.15 184.30 L597.97 184.56 L599.79 184.83 L601.62 185.09 L603.44 185.36 L605.27 185.61 L607.09 185.87 L608.92 186.13 L610.74 186.38 L612.57 186.63 L614.39 186.87 L616.22 187.12 L618.04 187.36 L619.87 187.60 L621.69 187.84 L623.51 188.08 L625.34 188.31 L627.16 188.54 L628.99 188.77 L630.81 189.00 L632.64 189.23 L634.46 189.45 L636.29 189.67 L638.11 189.89 L639.94 190.11 L641.76 190.32 L643.59 190.54 L645.41 190.75 L647.23 190.96 L649.06 191.17 L650.88 191.38 L652.71 191.58 L654.53 191.79 L656.36 191.99 L658.18 192.19 L660.01 192.38 L661.83 192.58 L663.66 192.78 L665.48 192.97 L667.31 193.16 L669.13 193.35 L670.95 193.54 L672.78 193.73 L674.60 193.91 L676.43 194.10 L678.25 194.28 L680.08 194.46 L681.90 194.64 L683.73 194.82 L685.55 194.99 L687.38 195.17 L689.20 195.34 L691.03 195.52 L692.85 195.69 L694.67 195.86 L696.50 196.03 L698.32 196.19 L700.15 196.36 L701.97 196.53 L703.80 196.69 L705.62 196.85 L707.45 197.01 L709.27 197.17 L711.10 197.33 L712.92 197.49 L714.75 197.65 L716.57 197.81 L718.39 197.96 L720.22 198.11 L722.04 198.27 L723.87 198.42 L725.69 198.57 L727.52 198.72 L729.34 198.87 L731.17 199.02 L732.99 199.16 L734.82 199.31 L736.64 199.45 L738.47 199.60 L740.29 199.74 L742.12 199.88 L743.94 200.03 L745.76 200.17 L747.59 200.31 L749.41 200.45 L751.24 200.59 L753.06 200.72 L754.89 200.86 L756.71 201.00 L758.54 201.13 L760.36 201.27 L762.19 201.40 L764.01 201.53 L765.84 201.67 L767.66 201.80 L769.48 201.93 L771.31 202.06 L773.13 202.19 L774.96 202.32 L776.78 202.45 L778.61 202.58 L780.43 202.71 L782.26 202.83 L784.08 202.96 L785.91 203.09 L787.73 203.21 L789.56 203.34 L791.38 203.46 L793.20 203.59 L795.03 203.71 L796.85 203.83 L798.68 203.96 L800.50 204.08 L802.33 204.20 L804.15 204.32 L805.98 204.45 L807.80 204.57 L809.63 204.69 L811.45 204.81 L813.28 204.93 L815.10 205.05" stroke="#00ffe0"/>
<path d="M452.00 108.14 L453.82 108.76 L455.65 109.37 L457.47 109.99 L459.30 110.59 L461.12 111.19 L462.95 111.79 L464.77 112.38 L466.60 112.97 L468.42 113.55 L470.25 114.13 L472.07 114.70 L473.90 115.26 L475.72 115.83 L477.54 116.38 L479.37 116.94 L481.19 117.48 L483.02 118.03 L484.84 118.57 L486.67 119.10 L488.49 119.63 L490.32 120.16 L492.14 120.68 L493.97 121.19 L495.79 121.70 L497.62 122.21 L499.44 122.71 L501.26 123.21 L503.09 123.71 L504.91 124.20 L506.74 124.68 L508.56 125.17 L510.39 125.64 L512.21 126.12 L514.04 126.59 L515.86 127.05 L517.69 127.51 L519.51 127.97 L521.34 128.42 L523.16 128.87 L524.98 129.32 L526.81 129.76 L528.63 130.20 L530.46 130.63 L532.28 131.06 L534.11 131.49 L535.93 131.91 L537.76 132.33 L539.58 132.75 L541.41 133.16 L543.23 133.57 L545.06 133.98 L546.88 134.38 L548.71 134.78 L550.53 135.17 L552.35 135.56 L554.18 135.95 L556.00 136.34 L557.83 136.72 L559.65 137.10 L561.48 137.47 L563.30 137.84 L565.13 138.21 L566.95 138.58 L568.78 138.94 L570.60 139.30 L572.43 139.66 L574.25 140.01 L576.07 140.36 L577.90 140.71 L579.72 141.05 L581.55 141.39 L583.37 141.73 L585.20 142.07 L587.02 142.40 L588.85 142.73 L590.67 143.06 L592.50 143.38 L594.32 143.71 L596.15 144.03 L597.97 144.34 L599.79 144.66 L601.62 144.97 L603.44 145.28 L605.27 145.59 L607.09 145.89 L608.92 146.19 L610.74 146.49 L612.57 146.79 L614.39 147.08 L616.22 147.38 L618.04 147.67 L619.87 147.96 L621.69 148.24 L623.51 148.52 L625.34 148.81 L627.16 149.08 L628.99 149.36 L630.81 149.64 L632.64 149.91 L634.46 150.18 L636.29 150.45 L638.11 150.72 L639.94 150.98 L641.76 151.24 L643.59 151.51 L645.41 151.76 L647.23 152.02 L649.06 152.28 L650.88 152.53 L652.71 152.78 L654.53 153.03 L656.36 153.28 L658.18 153.53 L660.01 153.77 L661.83 154.02 L663.66 154.26 L665.48 154.50 L667.31 154.74 L669.13 154.98 L670.95 155.21 L672.78 155.45 L674.60 155.68 L676.43 155.91 L678.25 156.14 L680.08 156.37 L681.90 156.60 L683.73 156.82 L685.55 157.05 L687.38 157.27 L689.20 157.50 L691.03 157.72 L692.85 157.94 L694.67 158.16 L696.50 158.37 L698.32 158.59 L700.15 158.81 L701.97 159.02 L703.80 159.24 L705.62 159.45 L707.45 159.66 L709.27 159.87 L711.10 160.08 L712.92 160.29 L714.75 160.50 L716.57 160.71 L718.39 160.91 L720.22 161.12 L722.04 161.32 L723.87 161.53 L725.69 161.73 L727.52 161.93 L729.34 162.14 L731.17 162.34 L732.99 162.54 L734.82 162.74 L736.64 162.94 L738.47 163.14 L740.29 163.34 L742.12 163.54 L743.94 163.73 L745.76 163.93 L747.59 164.13 L749.41 164.33 L751.24 164.52 L753.06 164.72 L754.89 164.91 L756.71 165.11 L758.54 165.31 L760.36 165.50 L762.19 165.70 L764.01 165.89 L765.84 166.09 L767.66 166.28 L769.48 166.47 L771.31 166.67 L773.13 166.86 L774.96 167.06 L776.78 167.25 L778.61 167.45 L780.43 167.64 L782.26 167.84 L784.08 168.03 L785.91 168.22 L787.73 168.42 L789.56 168.61 L791.38 168.81 L793.20 169.01 L795.03 169.20 L796.85 169.40 L798.68 169.59 L800.50 169.79 L802.33 169.99 L804.15 170.18 L805.98 170.38 L807.80 170.58 L809.63 170.78 L811.45 170.98 L813.28 171.18 L815.10 171.38" stroke="#00a3ff"/>
<path d="M452.00 35.94 L453.82 36.51 L455.65 37.07 L457.47 37.63 L459.30 38.19 L461.12 38.74 L462.95 39.29 L464.77 39.83 L466.60 40.37 L468.42 40.91 L470.25 41.44 L472.07 41.97 L473.90 42.49 L475.72 43.01 L477.54 43.52 L479.37 44.03 L481.19 44.54 L483.02 45.05 L484.84 45.55 L486.67 46.04 L488.49 46.54 L490.32 47.03 L492.14 47.51 L493.97 48.00 L495.79 48.48 L497.62 48.95 L499.44 49.43 L501.26 49.90 L503.09 50.36 L504.91 50.83 L506.74 51.29 L508.56 51.75 L510.39 52.20 L512.21 52.65 L514.04 53.10 L515.86 53.55 L517.69 53.99 L519.51 54.43 L521.34 54.87 L523.16 55.31 L524.98 55.74 L526.81 56.17 L528.63 56.60 L530.46 57.02 L532.28 57.45 L534.11 57.87 L535.93 58.29 L537.76 58.70 L539.58 59.11 L541.41 59.53 L543.23 59.93 L545.06 60.34 L546.88 60.75 L548.71 61.15 L550.53 61.55 L552.35 61.95 L554.18 62.34 L556.00 62.74 L557.83 63.13 L559.65 63.52 L561.48 63.91 L563.30 64.29 L565.13 64.68 L566.95 65.06 L568.78 65.44 L570.60 65.82 L572.43 66.19 L574.25 66.57 L576.07 66.94 L577.90 67.31 L579.72 67.68 L581.55 68.05 L583.37 68.42 L585.20 68.78 L587.02 69.14 L588.85 69.51 L590.67 69.87 L592.50 70.23 L594.32 70.58 L596.15 70.94 L597.97 71.29 L599.79 71.64 L601.62 71.99 L603.44 72.34 L605.27 72.69 L607.09 73.04 L608.92 73.38 L610.74 73.73 L612.57 74.07 L614.39 74.41 L616.22 74.75 L618.04 75.09 L619.87 75.43 L621.69 75.77 L623.51 76.10 L625.34 76.43 L627.16 76.77 L628.99 77.10 L630.81 77.43 L632.64 77.76 L634.46 78.08 L636.29 78.41 L638.11 78.74 L639.94 79.06 L641.76 79.38 L643.59 79.71 L645.41 80.03 L647.23 80.35 L649.06 80.67 L650.88 80.98 L652.71 81.30 L654.53 81.62 L656.36 81.93 L658.18 82.24 L660.01 82.56 L661.83 82.87 L663.66 83.18 L665.48 83.49 L667.31 83.80 L669.13 84.10 L670.95 84.41 L672.78 84.72 L674.60 85.02 L676.43 85.32 L678.25 85.63 L680.08 85.93 L681.90 86.23 L683.73 86.53 L685.55 86.83 L687.38 87.13 L689.20 87.42 L691.03 87.72 L692.85 88.01 L694.67 88.31 L696.50 88.60 L698.32 88.89 L700.15 89.18 L701.97 89.47 L703.80 89.76 L705.62 90.05 L707.45 90.34 L709.27 90.63 L711.10 90.91 L712.92 91.20 L714.75 91.48 L716.57 91.77 L718.39 92.05 L720.22 92.33 L722.04 92.61 L723.87 92.89 L725.69 93.17 L727.52 93.45 L729.34 93.72 L731.17 94.00 L732.99 94.28 L734.82 94.55 L736.64 94.82 L738.47 95.10 L740.29 95.37 L742.12 95.64 L743.94 95.91 L745.76 96.18 L747.59 96.45 L749.41 96.71 L751.24 96.98 L753.06 97.24 L754.89 97.51 L756.71 97.77 L758.54 98.03 L760.36 98.30 L762.19 98.56 L764.01 98.82 L765.84 99.08 L767.66 99.33 L769.48 99.59 L771.31 99.85 L773.13 100.10 L774.96 100.35 L776.78 100.61 L778.61 100.86 L780.43 101.11 L782.26 101.36 L784.08 101.61 L785.91 101.86 L787.73 102.10 L789.56 102.35 L791.38 102.60 L793.20 102.84 L795.03 103.08 L796.85 103.32 L798.68 103.57 L800.50 103.81 L802.33 104.04 L804.15 104.28 L805.98 104.52 L807.80 104.75 L809.63 104.99 L811.45 105.22 L813.28 105.45 L815.10 105.68" stroke="#0029ff"/>
</g>
<g stroke="#333" stroke-width="0.52" fill="none">
<path d="M16.90 242.15 H394.90"/>
<path d="M24.55 13.00 V246.60"/>
</g>
<g stroke="#333" stroke-width="0.52" fill="none">
<path d="M43.83 242.15 V239.25"/>
<path d="M63.00 242.15 V239.25"/>
<path d="M82.18 242.15 V239.25"/>
<path d="M101.35 242.15 V237.85"/>
<path d="M120.53 242.15 V239.25"/>
<path d="M139.70 242.15 V239.25"/>
<path d="M158.88 242.15 V239.25"/>
<path d="M178.05 242.15 V237.85"/>
<path d="M197.23 242.15 V239.25"/>
<path d="M216.40 242.15 V239.25"/>
<path d="M235.58 242.15 V239.25"/>
<path d="M254.75 242.15 V237.85"/>
<path d="M273.93 242.15 V239.25"/>
<path d="M293.10 242.15 V239.25"/>
<path d="M312.27 242.15 V239.25"/>
<path d="M331.45 242.15 V237.85"/>
<path d="M350.62 242.15 V239.25"/>
<path d="M369.80 242.15 V239.25"/>
<path d="M388.98 242.15 V239.25"/>
<path d="M24.55 232.65 H27.45"/>
<path d="M24.55 223.31 H27.45"/>
<path d="M24.55 213.97 H27.45"/>
<path d="M24.55 204.63 H28.85"/>
<path d="M24.55 195.29 H27.45"/>
<path d="M24.55 185.94 H27.45"/>
<path d="M24.55 176.60 H27.45"/>
<path d="M24.55 167.26 H28.85"/>
<path d="M24.55 157.92 H27.45"/>
<path d="M24.55 148.58 H27.45"/>
<path d="M24.55 139.24 H27.45"/>
<path d="M24.55 129.90 H28.85"/>
<path d="M24.55 120.56 H27.45"/>
<path d="M24.55 111.22 H27.45"/>
<path d="M24.55 101.88 H27.45"/>
<path d="M24.55 92.53 H28.85"/>
<path d="M24.55 83.19 H27.45"/>
<path d="M24.55 73.85 H27.45"/>
<path d="M24.55 64.51 H27.45"/>
<path d="M24.55 55.17 H28.85"/>
<path d="M24.55 45.83 H27.45"/>
<path d="M24.55 36.49 H27.45"/>
<path d="M24.55 27.15 H27.45"/>
<path d="M24.55 17.81 H28.85"/>
</g>
<g style="will-change:transform" text-rendering="geometricPrecision" font-family="'Liberation Serif', serif" font-size="13" fill="#000">
<text transform="translate(100.85 254.9) scale(0.97 1)" text-anchor="middle">0.2</text>
<text transform="translate(177.55 254.9) scale(0.97 1)" text-anchor="middle">0.4</text>
<text transform="translate(254.25 254.9) scale(0.97 1)" text-anchor="middle">0.6</text>
<text transform="translate(330.95 254.9) scale(0.97 1)" text-anchor="middle">0.8</text>
<text transform="translate(20.15 207.53) scale(0.97 1)" text-anchor="end">0.2</text>
<text transform="translate(20.15 170.16) scale(0.97 1)" text-anchor="end">0.4</text>
<text transform="translate(20.15 132.79) scale(0.97 1)" text-anchor="end">0.6</text>
<text transform="translate(20.15 95.42) scale(0.97 1)" text-anchor="end">0.8</text>
<text transform="translate(20.15 58.05) scale(0.97 1)" text-anchor="end">1.0</text>
<text transform="translate(20.15 20.68) scale(0.97 1)" text-anchor="end">1.2</text>
</g>
<g stroke="#333" stroke-width="0.52" fill="none">
<path d="M444.20 242.15 H822.10"/>
<path d="M451.90 13.00 V246.60"/>
</g>
<g stroke="#333" stroke-width="0.52" fill="none">
<path d="M470.13 242.15 V239.25"/>
<path d="M488.26 242.15 V239.25"/>
<path d="M506.39 242.15 V239.25"/>
<path d="M524.52 242.15 V237.85"/>
<path d="M542.65 242.15 V239.25"/>
<path d="M560.78 242.15 V239.25"/>
<path d="M578.91 242.15 V239.25"/>
<path d="M597.04 242.15 V237.85"/>
<path d="M615.17 242.15 V239.25"/>
<path d="M633.30 242.15 V239.25"/>
<path d="M651.43 242.15 V239.25"/>
<path d="M669.56 242.15 V237.85"/>
<path d="M687.69 242.15 V239.25"/>
<path d="M705.82 242.15 V239.25"/>
<path d="M723.95 242.15 V239.25"/>
<path d="M742.08 242.15 V237.85"/>
<path d="M760.21 242.15 V239.25"/>
<path d="M778.34 242.15 V239.25"/>
<path d="M796.47 242.15 V239.25"/>
<path d="M814.60 242.15 V237.85"/>
<path d="M451.90 232.65 H454.80"/>
<path d="M451.90 223.31 H454.80"/>
<path d="M451.90 213.97 H454.80"/>
<path d="M451.90 204.63 H456.20"/>
<path d="M451.90 195.29 H454.80"/>
<path d="M451.90 185.94 H454.80"/>
<path d="M451.90 176.60 H454.80"/>
<path d="M451.90 167.26 H456.20"/>
<path d="M451.90 157.92 H454.80"/>
<path d="M451.90 148.58 H454.80"/>
<path d="M451.90 139.24 H454.80"/>
<path d="M451.90 129.90 H456.20"/>
<path d="M451.90 120.56 H454.80"/>
<path d="M451.90 111.22 H454.80"/>
<path d="M451.90 101.88 H454.80"/>
<path d="M451.90 92.53 H456.20"/>
<path d="M451.90 83.19 H454.80"/>
<path d="M451.90 73.85 H454.80"/>
<path d="M451.90 64.51 H454.80"/>
<path d="M451.90 55.17 H456.20"/>
<path d="M451.90 45.83 H454.80"/>
<path d="M451.90 36.49 H454.80"/>
<path d="M451.90 27.15 H454.80"/>
<path d="M451.90 17.81 H456.20"/>
</g>
<g style="will-change:transform" text-rendering="geometricPrecision" font-family="'Liberation Serif', serif" font-size="13" fill="#000">
<text transform="translate(524.02 254.9) scale(0.97 1)" text-anchor="middle">0.2</text>
<text transform="translate(596.54 254.9) scale(0.97 1)" text-anchor="middle">0.4</text>
<text transform="translate(669.06 254.9) scale(0.97 1)" text-anchor="middle">0.6</text>
<text transform="translate(741.58 254.9) scale(0.97 1)" text-anchor="middle">0.8</text>
<text transform="translate(814.10 254.9) scale(0.97 1)" text-anchor="middle">1.0</text>
<text transform="translate(447.50 207.53) scale(0.97 1)" text-anchor="end">0.2</text>
<text transform="translate(447.50 170.16) scale(0.97 1)" text-anchor="end">0.4</text>
<text transform="translate(447.50 132.79) scale(0.97 1)" text-anchor="end">0.6</text>
<text transform="translate(447.50 95.42) scale(0.97 1)" text-anchor="end">0.8</text>
<text transform="translate(447.50 58.05) scale(0.97 1)" text-anchor="end">1.0</text>
<text transform="translate(447.50 20.68) scale(0.97 1)" text-anchor="end">1.2</text>
</g>
</svg></body></html>
